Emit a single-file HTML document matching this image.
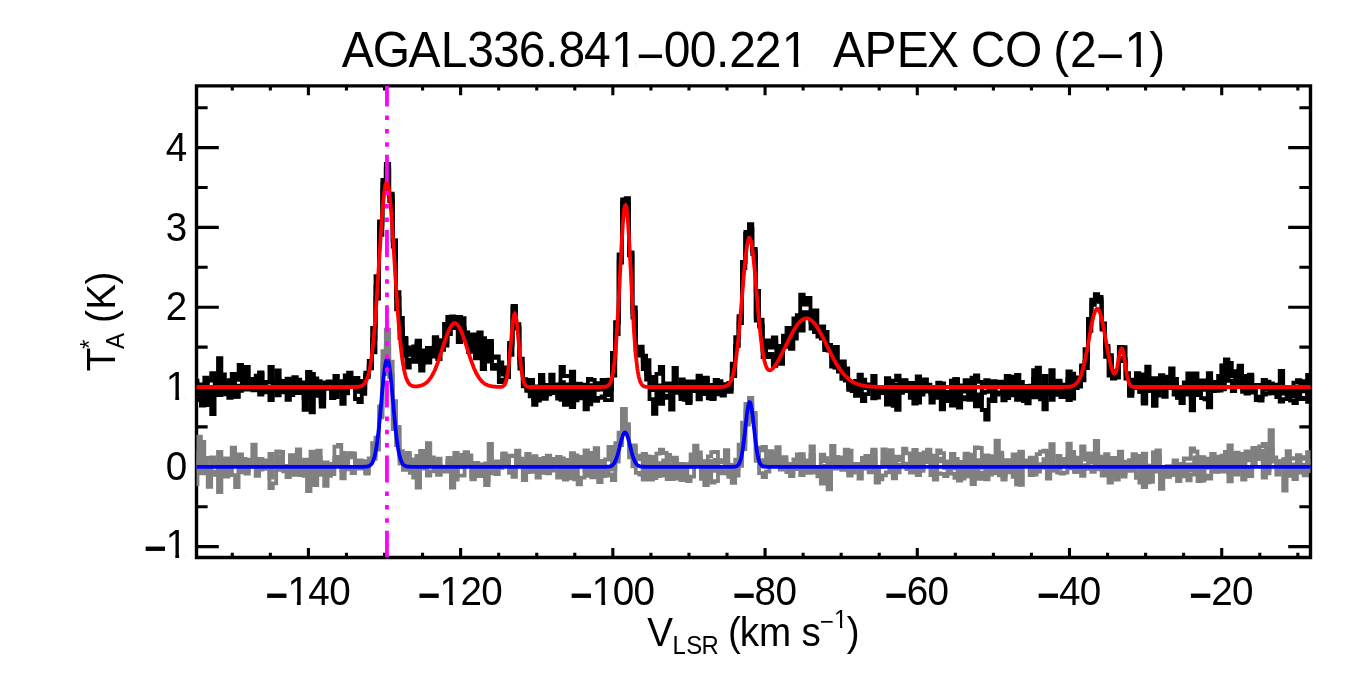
<!DOCTYPE html>
<html><head><meta charset="utf-8"><title>AGAL336.841-00.221 APEX CO (2-1)</title><style>html,body{margin:0;padding:0;background:#fff;overflow:hidden}svg{display:block}</style></head><body>
<svg width="1350" height="675" viewBox="0 0 1350 675">
<rect width="1350" height="675" fill="#fff"/>
<defs><clipPath id="c"><rect x="196.5" y="85.9" width="1114.0" height="471.6"/></clipPath></defs>
<path d="M232.29,557.5V552.78M232.29,85.9V90.62M270.34,557.5V552.78M270.34,85.9V90.62M308.40,557.5V548.07M308.40,85.9V95.33M346.45,557.5V552.78M346.45,85.9V90.62M384.51,557.5V552.78M384.51,85.9V90.62M422.56,557.5V552.78M422.56,85.9V90.62M460.62,557.5V548.07M460.62,85.9V95.33M498.67,557.5V552.78M498.67,85.9V90.62M536.73,557.5V552.78M536.73,85.9V90.62M574.78,557.5V552.78M574.78,85.9V90.62M612.84,557.5V548.07M612.84,85.9V95.33M650.89,557.5V552.78M650.89,85.9V90.62M688.95,557.5V552.78M688.95,85.9V90.62M727.00,557.5V552.78M727.00,85.9V90.62M765.06,557.5V548.07M765.06,85.9V95.33M803.12,557.5V552.78M803.12,85.9V90.62M841.17,557.5V552.78M841.17,85.9V90.62M879.22,557.5V552.78M879.22,85.9V90.62M917.28,557.5V548.07M917.28,85.9V95.33M955.33,557.5V552.78M955.33,85.9V90.62M993.39,557.5V552.78M993.39,85.9V90.62M1031.44,557.5V552.78M1031.44,85.9V90.62M1069.50,557.5V548.07M1069.50,85.9V95.33M1107.55,557.5V552.78M1107.55,85.9V90.62M1145.61,557.5V552.78M1145.61,85.9V90.62M1183.66,557.5V552.78M1183.66,85.9V90.62M1221.72,557.5V548.07M1221.72,85.9V95.33M1259.78,557.5V552.78M1259.78,85.9V90.62M1297.83,557.5V552.78M1297.83,85.9V90.62M196.5,546.60H218.78M1310.5,546.60H1288.22M196.5,506.70H207.64M1310.5,506.70H1299.36M196.5,466.80H218.78M1310.5,466.80H1288.22M196.5,426.90H207.64M1310.5,426.90H1299.36M196.5,387.00H218.78M1310.5,387.00H1288.22M196.5,347.10H207.64M1310.5,347.10H1299.36M196.5,307.20H218.78M1310.5,307.20H1288.22M196.5,267.30H207.64M1310.5,267.30H1299.36M196.5,227.40H218.78M1310.5,227.40H1288.22M196.5,187.50H207.64M1310.5,187.50H1299.36M196.5,147.60H218.78M1310.5,147.60H1288.22M196.5,107.70H207.64M1310.5,107.70H1299.36" fill="none" stroke="#000" stroke-width="3.1"/>
<path d="M196.5,85.9H1310.5V557.5H196.5Z" fill="none" stroke="#000" stroke-width="3.4" stroke-linejoin="miter"/>
<g clip-path="url(#c)" fill="none" stroke-width="3.8" stroke-linejoin="miter" stroke-miterlimit="10">
<path d="M187.2,369.5L190.6,369.5L190.6,409.8L194.0,409.8L194.0,383.7L197.5,383.7L197.5,392.4L200.9,392.4L200.9,391.4L204.3,391.4L204.3,389.3L207.7,389.3L207.7,405.1L211.2,405.1L211.2,389.4L214.6,389.4L214.6,395.0L218.0,395.0L218.0,358.2L221.4,358.2L221.4,385.4L224.9,385.4L224.9,390.5L228.3,390.5L228.3,389.9L231.7,389.9L231.7,393.3L235.1,393.3L235.1,396.7L238.6,396.7L238.6,390.8L242.0,390.8L242.0,383.2L245.4,383.2L245.4,389.5L248.8,389.5L248.8,379.0L252.3,379.0L252.3,389.2L255.7,389.2L255.7,387.2L259.1,387.2L259.1,373.8L262.5,373.8L262.5,382.6L266.0,382.6L266.0,391.8L269.4,391.8L269.4,389.0L272.8,389.0L272.8,382.7L276.2,382.7L276.2,370.4L279.7,370.4L279.7,389.8L283.1,389.8L283.1,389.5L286.5,389.5L286.5,378.6L289.9,378.6L289.9,395.2L293.3,395.2L293.3,390.0L296.8,390.0L296.8,379.7L300.2,379.7L300.2,382.3L303.6,382.3L303.6,386.6L307.0,386.6L307.0,381.5L310.5,381.5L310.5,412.3L313.9,412.3L313.9,378.5L317.3,378.5L317.3,395.9L320.7,395.9L320.7,402.2L324.2,402.2L324.2,385.2L327.6,385.2L327.6,381.5L331.0,381.5L331.0,391.6L334.4,391.6L334.4,397.1L337.9,397.1L337.9,387.5L341.3,387.5L341.3,388.2L344.7,388.2L344.7,375.5L348.1,375.5L348.1,381.3L351.6,381.3L351.6,386.2L355.0,386.2L355.0,378.0L358.4,378.0L358.4,389.2L361.8,389.2L361.8,393.8L365.3,393.8L365.3,375.0L368.7,375.0L368.7,360.9L372.1,360.9L372.1,339.1L375.5,339.1L375.5,298.6L379.0,298.6L379.0,224.9L382.4,224.9L382.4,190.5L385.8,190.5L385.8,168.5L389.2,168.5L389.2,193.6L392.7,193.6L392.7,246.6L396.1,246.6L396.1,298.5L399.5,298.5L399.5,338.2L402.9,338.2L402.9,337.8L406.4,337.8L406.4,367.5L409.8,367.5L409.8,359.6L413.2,359.6L413.2,346.3L416.6,346.3L416.6,342.4L420.1,342.4L420.1,370.6L423.5,370.6L423.5,355.2L426.9,355.2L426.9,347.9L430.3,347.9L430.3,356.7L433.8,356.7L433.8,337.2L437.2,337.2L437.2,359.1L440.6,359.1L440.6,340.3L444.0,340.3L444.0,345.6L447.5,345.6L447.5,317.2L450.9,317.2L450.9,325.1L454.3,325.1L454.3,327.4L457.7,327.4L457.7,342.2L461.2,342.2L461.2,318.1L464.6,318.1L464.6,332.6L468.0,332.6L468.0,337.8L471.4,337.8L471.4,337.7L474.9,337.7L474.9,346.1L478.3,346.1L478.3,355.8L481.7,355.8L481.7,358.3L485.1,358.3L485.1,359.2L488.6,359.2L488.6,340.8L492.0,340.8L492.0,367.7L495.4,367.7L495.4,365.7L498.8,365.7L498.8,371.9L502.3,371.9L502.3,374.5L505.7,374.5L505.7,367.3L509.1,367.3L509.1,354.9L512.5,354.9L512.5,316.6L516.0,316.6L516.0,328.3L519.4,328.3L519.4,358.7L522.8,358.7L522.8,379.2L526.2,379.2L526.2,386.9L529.7,386.9L529.7,391.8L533.1,391.8L533.1,386.5L536.5,386.5L536.5,391.2L539.9,391.2L539.9,381.9L543.4,381.9L543.4,396.1L546.8,396.1L546.8,387.9L550.2,387.9L550.2,390.1L553.6,390.1L553.6,384.4L557.1,384.4L557.1,387.2L560.5,387.2L560.5,366.8L563.9,366.8L563.9,376.0L567.3,376.0L567.3,376.1L570.8,376.1L570.8,407.1L574.2,407.1L574.2,392.2L577.6,392.2L577.6,394.6L581.0,394.6L581.0,384.6L584.5,384.6L584.5,409.3L587.9,409.3L587.9,379.0L591.3,379.0L591.3,379.9L594.7,379.9L594.7,400.8L598.2,400.8L598.2,397.9L601.6,397.9L601.6,396.3L605.0,396.3L605.0,388.4L608.4,388.4L608.4,379.7L611.9,379.7L611.9,353.0L615.3,353.0L615.3,334.1L618.7,334.1L618.7,255.1L622.1,255.1L622.1,202.9L625.6,202.9L625.6,198.1L629.0,198.1L629.0,252.4L632.4,252.4L632.4,307.5L635.8,307.5L635.8,355.0L639.3,355.0L639.3,355.6L642.7,355.6L642.7,369.2L646.1,369.2L646.1,360.2L649.5,360.2L649.5,377.0L653.0,377.0L653.0,390.2L656.4,390.2L656.4,393.1L659.8,393.1L659.8,385.3L663.2,385.3L663.2,395.7L666.7,395.7L666.7,397.8L670.1,397.8L670.1,385.4L673.5,385.4L673.5,368.0L676.9,368.0L676.9,391.8L680.4,391.8L680.4,394.5L683.8,394.5L683.8,399.8L687.2,399.8L687.2,401.1L690.6,401.1L690.6,384.6L694.1,384.6L694.1,381.3L697.5,381.3L697.5,388.2L700.9,388.2L700.9,384.8L704.3,384.8L704.3,385.9L707.8,385.9L707.8,385.0L711.2,385.0L711.2,399.0L714.6,399.0L714.6,389.2L718.0,389.2L718.0,384.0L721.5,384.0L721.5,391.8L724.9,391.8L724.9,388.7L728.3,388.7L728.3,389.0L731.7,389.0L731.7,376.0L735.2,376.0L735.2,345.7L738.6,345.7L738.6,323.1L742.0,323.1L742.0,268.1L745.4,268.1L745.4,233.7L748.9,233.7L748.9,229.0L752.3,229.0L752.3,249.0L755.7,249.0L755.7,320.7L759.1,320.7L759.1,325.1L762.6,325.1L762.6,350.6L766.0,350.6L766.0,346.8L769.4,346.8L769.4,340.8L772.8,340.8L772.8,342.1L776.3,342.1L776.3,345.8L779.7,345.8L779.7,353.0L783.1,353.0L783.1,335.6L786.5,335.6L786.5,345.1L790.0,345.1L790.0,335.5L793.4,335.5L793.4,318.4L796.8,318.4L796.8,322.7L800.2,322.7L800.2,294.6L803.7,294.6L803.7,304.6L807.1,304.6L807.1,297.8L810.5,297.8L810.5,322.0L813.9,322.0L813.9,330.6L817.4,330.6L817.4,331.5L820.8,331.5L820.8,332.5L824.2,332.5L824.2,350.2L827.6,350.2L827.6,347.5L831.1,347.5L831.1,356.4L834.5,356.4L834.5,347.0L837.9,347.0L837.9,371.7L841.3,371.7L841.3,361.3L844.8,361.3L844.8,380.6L848.2,380.6L848.2,387.5L851.6,387.5L851.6,388.9L855.0,388.9L855.0,395.8L858.5,395.8L858.5,386.1L861.9,386.1L861.9,379.6L865.3,379.6L865.3,388.0L868.7,388.0L868.7,384.4L872.2,384.4L872.2,375.8L875.6,375.8L875.6,387.9L879.0,387.9L879.0,388.6L882.4,388.6L882.4,392.8L885.9,392.8L885.9,404.6L889.3,404.6L889.3,383.8L892.7,383.8L892.7,405.9L896.1,405.9L896.1,384.8L899.6,384.8L899.6,390.7L903.0,390.7L903.0,380.7L906.4,380.7L906.4,391.1L909.8,391.1L909.8,397.8L913.3,397.8L913.3,387.4L916.7,387.4L916.7,395.5L920.1,395.5L920.1,392.2L923.5,392.2L923.5,390.2L927.0,390.2L927.0,391.7L930.4,391.7L930.4,392.2L933.8,392.2L933.8,397.9L937.2,397.9L937.2,392.2L940.7,392.2L940.7,409.3L944.1,409.3L944.1,391.9L947.5,391.9L947.5,401.0L950.9,401.0L950.9,380.7L954.4,380.7L954.4,379.3L957.8,379.3L957.8,407.6L961.2,407.6L961.2,389.2L964.6,389.2L964.6,391.6L968.1,391.6L968.1,399.6L971.5,399.6L971.5,385.8L974.9,385.8L974.9,394.5L978.3,394.5L978.3,405.9L981.8,405.9L981.8,392.8L985.2,392.8L985.2,391.7L988.6,391.7L988.6,389.5L992.0,389.5L992.0,401.2L995.5,401.2L995.5,385.0L998.9,385.0L998.9,383.9L1002.3,383.9L1002.3,400.4L1005.7,400.4L1005.7,396.1L1009.2,396.1L1009.2,391.1L1012.6,391.1L1012.6,395.3L1016.0,395.3L1016.0,375.0L1019.4,375.0L1019.4,388.5L1022.9,388.5L1022.9,399.2L1026.3,399.2L1026.3,397.2L1029.7,397.2L1029.7,390.8L1033.1,390.8L1033.1,370.1L1036.6,370.1L1036.6,391.8L1040.0,391.8L1040.0,389.1L1043.4,389.1L1043.4,385.7L1046.8,385.7L1046.8,390.6L1050.3,390.6L1050.3,370.2L1053.7,370.2L1053.7,394.9L1057.1,394.9L1057.1,383.7L1060.5,383.7L1060.5,388.8L1064.0,388.8L1064.0,384.7L1067.4,384.7L1067.4,400.2L1070.8,400.2L1070.8,373.6L1074.2,373.6L1074.2,388.1L1077.7,388.1L1077.7,381.7L1081.1,381.7L1081.1,380.3L1084.5,380.3L1084.5,361.7L1087.9,361.7L1087.9,319.5L1091.4,319.5L1091.4,299.7L1094.8,299.7L1094.8,294.2L1098.2,294.2L1098.2,298.8L1101.6,298.8L1101.6,323.4L1105.1,323.4L1105.1,348.4L1108.5,348.4L1108.5,358.5L1111.9,358.5L1111.9,370.9L1115.3,370.9L1115.3,371.8L1118.8,371.8L1118.8,347.0L1122.2,347.0L1122.2,347.2L1125.6,347.2L1125.6,377.8L1129.0,377.8L1129.0,391.8L1132.5,391.8L1132.5,383.5L1135.9,383.5L1135.9,373.1L1139.3,373.1L1139.3,391.7L1142.7,391.7L1142.7,390.6L1146.2,390.6L1146.2,391.0L1149.6,391.0L1149.6,379.0L1153.0,379.0L1153.0,405.9L1156.4,405.9L1156.4,386.5L1159.9,386.5L1159.9,379.2L1163.3,379.2L1163.3,396.8L1166.7,396.8L1166.7,376.6L1170.1,376.6L1170.1,385.0L1173.6,385.0L1173.6,394.5L1177.0,394.5L1177.0,387.8L1180.4,387.8L1180.4,403.1L1183.8,403.1L1183.8,394.5L1187.3,394.5L1187.3,373.5L1190.7,373.5L1190.7,397.4L1194.1,397.4L1194.1,373.3L1197.5,373.3L1197.5,390.1L1201.0,390.1L1201.0,380.4L1204.4,380.4L1204.4,388.3L1207.8,388.3L1207.8,407.4L1211.2,407.4L1211.2,391.0L1214.7,391.0L1214.7,381.9L1218.1,381.9L1218.1,390.6L1221.5,390.6L1221.5,389.4L1224.9,389.4L1224.9,372.4L1228.4,372.4L1228.4,380.8L1231.8,380.8L1231.8,391.2L1235.2,391.2L1235.2,384.8L1238.6,384.8L1238.6,374.3L1242.1,374.3L1242.1,388.8L1245.5,388.8L1245.5,378.6L1248.9,378.6L1248.9,374.7L1252.3,374.7L1252.3,388.6L1255.8,388.6L1255.8,399.1L1259.2,399.1L1259.2,400.7L1262.6,400.7L1262.6,389.6L1266.0,389.6L1266.0,381.7L1269.5,381.7L1269.5,387.0L1272.9,387.0L1272.9,384.6L1276.3,384.6L1276.3,393.3L1279.7,393.3L1279.7,386.8L1283.2,386.8L1283.2,393.5L1286.6,393.5L1286.6,392.3L1290.0,392.3L1290.0,400.7L1293.4,400.7L1293.4,403.2L1296.9,403.2L1296.9,393.6L1300.3,393.6L1300.3,399.1L1303.7,399.1L1303.7,397.8L1307.1,397.8L1307.1,383.5L1310.6,383.5L1310.6,390.3L1314.0,390.3L1314.0,363.8L1317.4,363.8" stroke="#000"/>
<path d="M187.2,379.3L190.6,379.3L190.6,393.0L194.0,393.0L194.0,380.6L197.5,380.6L197.5,384.3L200.9,384.3L200.9,393.4L204.3,393.4L204.3,377.7L207.7,377.7L207.7,394.2L211.2,394.2L211.2,414.2L214.6,414.2L214.6,380.4L218.0,380.4L218.0,392.8L221.4,392.8L221.4,374.4L224.9,374.4L224.9,393.1L228.3,393.1L228.3,397.8L231.7,397.8L231.7,373.8L235.1,373.8L235.1,396.8L238.6,396.8L238.6,385.6L242.0,385.6L242.0,374.7L245.4,374.7L245.4,386.4L248.8,386.4L248.8,388.1L252.3,388.1L252.3,386.5L255.7,386.5L255.7,380.0L259.1,380.0L259.1,394.5L262.5,394.5L262.5,382.0L266.0,382.0L266.0,382.3L269.4,382.3L269.4,366.9L272.8,366.9L272.8,390.4L276.2,390.4L276.2,395.4L279.7,395.4L279.7,380.9L283.1,380.9L283.1,390.9L286.5,390.9L286.5,384.9L289.9,384.9L289.9,386.2L293.3,386.2L293.3,377.1L296.8,377.1L296.8,393.2L300.2,393.2L300.2,388.2L303.6,388.2L303.6,409.8L307.0,409.8L307.0,395.2L310.5,395.2L310.5,374.0L313.9,374.0L313.9,393.5L317.3,393.5L317.3,393.7L320.7,393.7L320.7,398.2L324.2,398.2L324.2,382.5L327.6,382.5L327.6,386.1L331.0,386.1L331.0,398.1L334.4,398.1L334.4,381.8L337.9,381.8L337.9,385.4L341.3,385.4L341.3,381.1L344.7,381.1L344.7,393.4L348.1,393.4L348.1,372.6L351.6,372.6L351.6,384.3L355.0,384.3L355.0,388.8L358.4,388.8L358.4,391.9L361.8,391.9L361.8,387.8L365.3,387.8L365.3,372.6L368.7,372.6L368.7,368.4L372.1,368.4L372.1,327.8L375.5,327.8L375.5,286.6L379.0,286.6L379.0,221.3L382.4,221.3L382.4,180.0L385.8,180.0L385.8,170.9L389.2,170.9L389.2,201.2L392.7,201.2L392.7,240.4L396.1,240.4L396.1,292.2L399.5,292.2L399.5,328.4L402.9,328.4L402.9,339.5L406.4,339.5L406.4,353.8L409.8,353.8L409.8,354.9L413.2,354.9L413.2,360.8L416.6,360.8L416.6,340.6L420.1,340.6L420.1,350.3L423.5,350.3L423.5,355.1L426.9,355.1L426.9,362.5L430.3,362.5L430.3,352.7L433.8,352.7L433.8,338.5L437.2,338.5L437.2,344.6L440.6,344.6L440.6,349.8L444.0,349.8L444.0,323.8L447.5,323.8L447.5,317.0L450.9,317.0L450.9,316.3L454.3,316.3L454.3,317.2L457.7,317.2L457.7,317.0L461.2,317.0L461.2,328.1L464.6,328.1L464.6,332.4L468.0,332.4L468.0,351.3L471.4,351.3L471.4,334.5L474.9,334.5L474.9,347.2L478.3,347.2L478.3,332.4L481.7,332.4L481.7,369.2L485.1,369.2L485.1,345.9L488.6,345.9L488.6,344.2L492.0,344.2L492.0,357.9L495.4,357.9L495.4,356.5L498.8,356.5L498.8,362.5L502.3,362.5L502.3,371.4L505.7,371.4L505.7,377.0L509.1,377.0L509.1,345.2L512.5,345.2L512.5,307.8L516.0,307.8L516.0,324.2L519.4,324.2L519.4,368.5L522.8,368.5L522.8,385.2L526.2,385.2L526.2,387.0L529.7,387.0L529.7,379.9L533.1,379.9L533.1,398.3L536.5,398.3L536.5,400.7L539.9,400.7L539.9,388.0L543.4,388.0L543.4,398.8L546.8,398.8L546.8,394.3L550.2,394.3L550.2,388.4L553.6,388.4L553.6,384.9L557.1,384.9L557.1,398.6L560.5,398.6L560.5,382.1L563.9,382.1L563.9,404.8L567.3,404.8L567.3,384.4L570.8,384.4L570.8,403.1L574.2,403.1L574.2,400.4L577.6,400.4L577.6,383.6L581.0,383.6L581.0,392.8L584.5,392.8L584.5,396.3L587.9,396.3L587.9,393.2L591.3,393.2L591.3,385.2L594.7,385.2L594.7,389.8L598.2,389.8L598.2,389.6L601.6,389.6L601.6,380.0L605.0,380.0L605.0,395.0L608.4,395.0L608.4,389.4L611.9,389.4L611.9,375.5L615.3,375.5L615.3,322.1L618.7,322.1L618.7,254.4L622.1,254.4L622.1,199.3L625.6,199.3L625.6,203.8L629.0,203.8L629.0,255.3L632.4,255.3L632.4,312.0L635.8,312.0L635.8,349.0L639.3,349.0L639.3,346.6L642.7,346.6L642.7,355.7L646.1,355.7L646.1,379.6L649.5,379.6L649.5,383.5L653.0,383.5L653.0,388.6L656.4,388.6L656.4,373.9L659.8,373.9L659.8,366.8L663.2,366.8L663.2,390.5L666.7,390.5L666.7,389.5L670.1,389.5L670.1,409.6L673.5,409.6L673.5,387.8L676.9,387.8L676.9,389.7L680.4,389.7L680.4,399.0L683.8,399.0L683.8,382.6L687.2,382.6L687.2,403.1L690.6,403.1L690.6,391.1L694.1,391.1L694.1,387.6L697.5,387.6L697.5,399.3L700.9,399.3L700.9,380.2L704.3,380.2L704.3,377.7L707.8,377.7L707.8,398.4L711.2,398.4L711.2,397.9L714.6,397.9L714.6,379.8L718.0,379.8L718.0,385.2L721.5,385.2L721.5,395.6L724.9,395.6L724.9,387.1L728.3,387.1L728.3,382.8L731.7,382.8L731.7,374.4L735.2,374.4L735.2,345.9L738.6,345.9L738.6,316.2L742.0,316.2L742.0,261.9L745.4,261.9L745.4,231.9L748.9,231.9L748.9,228.9L752.3,228.9L752.3,251.0L755.7,251.0L755.7,290.8L759.1,290.8L759.1,326.5L762.6,326.5L762.6,357.1L766.0,357.1L766.0,340.5L769.4,340.5L769.4,347.5L772.8,347.5L772.8,337.4L776.3,337.4L776.3,354.1L779.7,354.1L779.7,349.7L783.1,349.7L783.1,346.8L786.5,346.8L786.5,327.9L790.0,327.9L790.0,332.7L793.4,332.7L793.4,327.8L796.8,327.8L796.8,315.1L800.2,315.1L800.2,317.4L803.7,317.4L803.7,312.1L807.1,312.1L807.1,316.9L810.5,316.9L810.5,319.4L813.9,319.4L813.9,310.3L817.4,310.3L817.4,336.5L820.8,336.5L820.8,338.7L824.2,338.7L824.2,346.8L827.6,346.8L827.6,345.0L831.1,345.0L831.1,366.6L834.5,366.6L834.5,367.3L837.9,367.3L837.9,366.2L841.3,366.2L841.3,365.7L844.8,365.7L844.8,375.3L848.2,375.3L848.2,383.5L851.6,383.5L851.6,390.2L855.0,390.2L855.0,380.9L858.5,380.9L858.5,374.7L861.9,374.7L861.9,385.8L865.3,385.8L865.3,387.7L868.7,387.7L868.7,386.0L872.2,386.0L872.2,398.4L875.6,398.4L875.6,393.0L879.0,393.0L879.0,392.7L882.4,392.7L882.4,387.8L885.9,387.8L885.9,390.7L889.3,390.7L889.3,401.2L892.7,401.2L892.7,380.6L896.1,380.6L896.1,375.7L899.6,375.7L899.6,392.8L903.0,392.8L903.0,387.0L906.4,387.0L906.4,388.2L909.8,388.2L909.8,383.7L913.3,383.7L913.3,403.6L916.7,403.6L916.7,376.4L920.1,376.4L920.1,394.7L923.5,394.7L923.5,379.5L927.0,379.5L927.0,389.9L930.4,389.9L930.4,394.0L933.8,394.0L933.8,391.8L937.2,391.8L937.2,382.7L940.7,382.7L940.7,398.1L944.1,398.1L944.1,393.8L947.5,393.8L947.5,394.7L950.9,394.7L950.9,405.6L954.4,405.6L954.4,379.1L957.8,379.1L957.8,385.4L961.2,385.4L961.2,390.7L964.6,390.7L964.6,380.2L968.1,380.2L968.1,398.8L971.5,398.8L971.5,391.1L974.9,391.1L974.9,375.3L978.3,375.3L978.3,381.8L981.8,381.8L981.8,410.0L985.2,410.0L985.2,419.7L988.6,419.7L988.6,399.5L992.0,399.5L992.0,381.1L995.5,381.1L995.5,394.5L998.9,394.5L998.9,392.3L1002.3,392.3L1002.3,385.0L1005.7,385.0L1005.7,398.1L1009.2,398.1L1009.2,388.5L1012.6,388.5L1012.6,383.4L1016.0,383.4L1016.0,386.2L1019.4,386.2L1019.4,386.8L1022.9,386.8L1022.9,395.6L1026.3,395.6L1026.3,385.8L1029.7,385.8L1029.7,394.0L1033.1,394.0L1033.1,378.8L1036.6,378.8L1036.6,367.7L1040.0,367.7L1040.0,396.8L1043.4,396.8L1043.4,409.3L1046.8,409.3L1046.8,394.0L1050.3,394.0L1050.3,386.9L1053.7,386.9L1053.7,381.0L1057.1,381.0L1057.1,380.7L1060.5,380.7L1060.5,397.1L1064.0,397.1L1064.0,397.1L1067.4,397.1L1067.4,378.8L1070.8,378.8L1070.8,398.7L1074.2,398.7L1074.2,377.5L1077.7,377.5L1077.7,384.0L1081.1,384.0L1081.1,365.4L1084.5,365.4L1084.5,349.1L1087.9,349.1L1087.9,318.8L1091.4,318.8L1091.4,300.2L1094.8,300.2L1094.8,299.8L1098.2,299.8L1098.2,301.8L1101.6,301.8L1101.6,329.5L1105.1,329.5L1105.1,346.0L1108.5,346.0L1108.5,355.1L1111.9,355.1L1111.9,378.5L1115.3,378.5L1115.3,377.1L1118.8,377.1L1118.8,359.8L1122.2,359.8L1122.2,361.2L1125.6,361.2L1125.6,373.2L1129.0,373.2L1129.0,395.8L1132.5,395.8L1132.5,379.6L1135.9,379.6L1135.9,387.3L1139.3,387.3L1139.3,391.8L1142.7,391.8L1142.7,401.5L1146.2,401.5L1146.2,387.6L1149.6,387.6L1149.6,383.7L1153.0,383.7L1153.0,405.2L1156.4,405.2L1156.4,379.3L1159.9,379.3L1159.9,375.2L1163.3,375.2L1163.3,386.7L1166.7,386.7L1166.7,385.4L1170.1,385.4L1170.1,368.5L1173.6,368.5L1173.6,378.8L1177.0,378.8L1177.0,397.5L1180.4,397.5L1180.4,389.7L1183.8,389.7L1183.8,391.0L1187.3,391.0L1187.3,390.9L1190.7,390.9L1190.7,410.3L1194.1,410.3L1194.1,382.8L1197.5,382.8L1197.5,395.0L1201.0,395.0L1201.0,387.7L1204.4,387.7L1204.4,389.9L1207.8,389.9L1207.8,380.0L1211.2,380.0L1211.2,388.6L1214.7,388.6L1214.7,390.5L1218.1,390.5L1218.1,375.9L1221.5,375.9L1221.5,365.3L1224.9,365.3L1224.9,378.4L1228.4,378.4L1228.4,363.0L1231.8,363.0L1231.8,374.0L1235.2,374.0L1235.2,383.5L1238.6,383.5L1238.6,368.5L1242.1,368.5L1242.1,391.8L1245.5,391.8L1245.5,377.9L1248.9,377.9L1248.9,392.5L1252.3,392.5L1252.3,384.9L1255.8,384.9L1255.8,400.0L1259.2,400.0L1259.2,396.7L1262.6,396.7L1262.6,380.0L1266.0,380.0L1266.0,387.7L1269.5,387.7L1269.5,389.1L1272.9,389.1L1272.9,393.3L1276.3,393.3L1276.3,385.5L1279.7,385.5L1279.7,401.7L1283.2,401.7L1283.2,399.2L1286.6,399.2L1286.6,390.8L1290.0,390.8L1290.0,396.7L1293.4,396.7L1293.4,395.5L1296.9,395.5L1296.9,390.0L1300.3,390.0L1300.3,390.6L1303.7,390.6L1303.7,391.3L1307.1,391.3L1307.1,374.8L1310.6,374.8L1310.6,380.5L1314.0,380.5L1314.0,378.6L1317.4,378.6" stroke="#000"/>
<path d="M187.2,387.6L190.6,387.6L190.6,391.8L194.0,391.8L194.0,400.2L197.5,400.2L197.5,390.5L200.9,390.5L200.9,405.7L204.3,405.7L204.3,392.5L207.7,392.5L207.7,380.7L211.2,380.7L211.2,373.2L214.6,373.2L214.6,378.9L218.0,378.9L218.0,395.0L221.4,395.0L221.4,383.1L224.9,383.1L224.9,394.3L228.3,394.3L228.3,380.2L231.7,380.2L231.7,388.4L235.1,388.4L235.1,379.9L238.6,379.9L238.6,364.8L242.0,364.8L242.0,379.3L245.4,379.3L245.4,366.9L248.8,366.9L248.8,385.8L252.3,385.8L252.3,390.3L255.7,390.3L255.7,375.7L259.1,375.7L259.1,372.3L262.5,372.3L262.5,392.3L266.0,392.3L266.0,386.7L269.4,386.7L269.4,400.0L272.8,400.0L272.8,389.2L276.2,389.2L276.2,379.6L279.7,379.6L279.7,388.2L283.1,388.2L283.1,392.4L286.5,392.4L286.5,399.8L289.9,399.8L289.9,384.2L293.3,384.2L293.3,380.4L296.8,380.4L296.8,382.2L300.2,382.2L300.2,385.2L303.6,385.2L303.6,398.6L307.0,398.6L307.0,371.9L310.5,371.9L310.5,387.9L313.9,387.9L313.9,388.7L317.3,388.7L317.3,381.1L320.7,381.1L320.7,406.5L324.2,406.5L324.2,388.1L327.6,388.1L327.6,388.8L331.0,388.8L331.0,384.4L334.4,384.4L334.4,375.9L337.9,375.9L337.9,383.6L341.3,383.6L341.3,403.8L344.7,403.8L344.7,390.8L348.1,390.8L348.1,386.0L351.6,386.0L351.6,386.6L355.0,386.6L355.0,399.0L358.4,399.0L358.4,402.0L361.8,402.0L361.8,380.8L365.3,380.8L365.3,377.1L368.7,377.1L368.7,366.2L372.1,366.2L372.1,352.4L375.5,352.4L375.5,276.1L379.0,276.1L379.0,234.9L382.4,234.9L382.4,183.7L385.8,183.7L385.8,164.0L389.2,164.0L389.2,195.6L392.7,195.6L392.7,240.7L396.1,240.7L396.1,309.4L399.5,309.4L399.5,317.9L402.9,317.9L402.9,355.8L406.4,355.8L406.4,347.4L409.8,347.4L409.8,350.3L413.2,350.3L413.2,361.8L416.6,361.8L416.6,344.8L420.1,344.8L420.1,364.1L423.5,364.1L423.5,356.8L426.9,356.8L426.9,351.0L430.3,351.0L430.3,355.0L433.8,355.0L433.8,347.0L437.2,347.0L437.2,340.5L440.6,340.5L440.6,346.0L444.0,346.0L444.0,341.1L447.5,341.1L447.5,334.1L450.9,334.1L450.9,328.2L454.3,328.2L454.3,317.0L457.7,317.0L457.7,329.0L461.2,329.0L461.2,329.3L464.6,329.3L464.6,340.0L468.0,340.0L468.0,351.9L471.4,351.9L471.4,340.1L474.9,340.1L474.9,358.3L478.3,358.3L478.3,350.2L481.7,350.2L481.7,338.2L485.1,338.2L485.1,361.7L488.6,361.7L488.6,353.3L492.0,353.3L492.0,368.8L495.4,368.8L495.4,364.9L498.8,364.9L498.8,382.2L502.3,382.2L502.3,379.7L505.7,379.7L505.7,377.0L509.1,377.0L509.1,342.8L512.5,342.8L512.5,306.0L516.0,306.0L516.0,327.4L519.4,327.4L519.4,363.6L522.8,363.6L522.8,386.3L526.2,386.3L526.2,390.9L529.7,390.9L529.7,396.4L533.1,396.4L533.1,404.9L536.5,404.9L536.5,388.5L539.9,388.5L539.9,374.8L543.4,374.8L543.4,384.9L546.8,384.9L546.8,393.8L550.2,393.8L550.2,374.7L553.6,374.7L553.6,393.0L557.1,393.0L557.1,394.6L560.5,394.6L560.5,399.8L563.9,399.8L563.9,397.6L567.3,397.6L567.3,391.4L570.8,391.4L570.8,371.7L574.2,371.7L574.2,391.0L577.6,391.0L577.6,398.3L581.0,398.3L581.0,394.6L584.5,394.6L584.5,391.2L587.9,391.2L587.9,404.3L591.3,404.3L591.3,388.2L594.7,388.2L594.7,383.2L598.2,383.2L598.2,386.5L601.6,386.5L601.6,384.0L605.0,384.0L605.0,400.1L608.4,400.1L608.4,400.2L611.9,400.2L611.9,359.6L615.3,359.6L615.3,322.7L618.7,322.7L618.7,262.5L622.1,262.5L622.1,202.8L625.6,202.8L625.6,203.6L629.0,203.6L629.0,253.1L632.4,253.1L632.4,317.6L635.8,317.6L635.8,350.0L639.3,350.0L639.3,352.2L642.7,352.2L642.7,360.7L646.1,360.7L646.1,373.9L649.5,373.9L649.5,399.1L653.0,399.1L653.0,413.8L656.4,413.8L656.4,396.1L659.8,396.1L659.8,403.9L663.2,403.9L663.2,387.4L666.7,387.4L666.7,383.3L670.1,383.3L670.1,387.3L673.5,387.3L673.5,392.9L676.9,392.9L676.9,389.0L680.4,389.0L680.4,379.3L683.8,379.3L683.8,395.9L687.2,395.9L687.2,381.3L690.6,381.3L690.6,383.0L694.1,383.0L694.1,386.5L697.5,386.5L697.5,375.6L700.9,375.6L700.9,394.0L704.3,394.0L704.3,378.7L707.8,378.7L707.8,394.4L711.2,394.4L711.2,392.3L714.6,392.3L714.6,394.4L718.0,394.4L718.0,381.1L721.5,381.1L721.5,393.2L724.9,393.2L724.9,384.1L728.3,384.1L728.3,391.8L731.7,391.8L731.7,363.7L735.2,363.7L735.2,337.1L738.6,337.1L738.6,317.6L742.0,317.6L742.0,262.3L745.4,262.3L745.4,234.5L748.9,234.5L748.9,224.2L752.3,224.2L752.3,254.1L755.7,254.1L755.7,316.2L759.1,316.2L759.1,319.6L762.6,319.6L762.6,347.5L766.0,347.5L766.0,357.1L769.4,357.1L769.4,353.9L772.8,353.9L772.8,365.8L776.3,365.8L776.3,356.4L779.7,356.4L779.7,363.8L783.1,363.8L783.1,336.7L786.5,336.7L786.5,336.8L790.0,336.8L790.0,348.8L793.4,348.8L793.4,338.7L796.8,338.7L796.8,322.8L800.2,322.8L800.2,330.5L803.7,330.5L803.7,314.5L807.1,314.5L807.1,317.2L810.5,317.2L810.5,328.6L813.9,328.6L813.9,332.0L817.4,332.0L817.4,328.6L820.8,328.6L820.8,326.5L824.2,326.5L824.2,331.9L827.6,331.9L827.6,350.6L831.1,350.6L831.1,348.7L834.5,348.7L834.5,367.7L837.9,367.7L837.9,362.3L841.3,362.3L841.3,378.9L844.8,378.9L844.8,368.5L848.2,368.5L848.2,389.9L851.6,389.9L851.6,391.1L855.0,391.1L855.0,385.5L858.5,385.5L858.5,382.4L861.9,382.4L861.9,401.2L865.3,401.2L865.3,394.1L868.7,394.1L868.7,388.7L872.2,388.7L872.2,388.1L875.6,388.1L875.6,397.6L879.0,397.6L879.0,389.5L882.4,389.5L882.4,392.8L885.9,392.8L885.9,378.1L889.3,378.1L889.3,385.6L892.7,385.6L892.7,402.1L896.1,402.1L896.1,409.8L899.6,409.8L899.6,389.7L903.0,389.7L903.0,380.2L906.4,380.2L906.4,389.0L909.8,389.0L909.8,382.8L913.3,382.8L913.3,394.8L916.7,394.8L916.7,402.6L920.1,402.6L920.1,384.0L923.5,384.0L923.5,389.7L927.0,389.7L927.0,384.6L930.4,384.6L930.4,402.7L933.8,402.7L933.8,388.9L937.2,388.9L937.2,396.0L940.7,396.0L940.7,383.4L944.1,383.4L944.1,395.6L947.5,395.6L947.5,395.8L950.9,395.8L950.9,395.6L954.4,395.6L954.4,379.4L957.8,379.4L957.8,390.2L961.2,390.2L961.2,397.1L964.6,397.1L964.6,399.4L968.1,399.4L968.1,399.6L971.5,399.6L971.5,377.6L974.9,377.6L974.9,406.4L978.3,406.4L978.3,397.9L981.8,397.9L981.8,384.8L985.2,384.8L985.2,380.1L988.6,380.1L988.6,391.7L992.0,391.7L992.0,383.5L995.5,383.5L995.5,383.7L998.9,383.7L998.9,381.7L1002.3,381.7L1002.3,390.0L1005.7,390.0L1005.7,375.8L1009.2,375.8L1009.2,388.4L1012.6,388.4L1012.6,376.7L1016.0,376.7L1016.0,399.8L1019.4,399.8L1019.4,381.9L1022.9,381.9L1022.9,401.2L1026.3,401.2L1026.3,403.3L1029.7,403.3L1029.7,385.7L1033.1,385.7L1033.1,397.3L1036.6,397.3L1036.6,386.1L1040.0,386.1L1040.0,399.4L1043.4,399.4L1043.4,375.9L1046.8,375.9L1046.8,389.8L1050.3,389.8L1050.3,399.8L1053.7,399.8L1053.7,388.3L1057.1,388.3L1057.1,382.1L1060.5,382.1L1060.5,396.6L1064.0,396.6L1064.0,385.2L1067.4,385.2L1067.4,371.5L1070.8,371.5L1070.8,381.1L1074.2,381.1L1074.2,386.7L1077.7,386.7L1077.7,386.6L1081.1,386.6L1081.1,366.6L1084.5,366.6L1084.5,368.2L1087.9,368.2L1087.9,330.8L1091.4,330.8L1091.4,304.8L1094.8,304.8L1094.8,299.9L1098.2,299.9L1098.2,297.0L1101.6,297.0L1101.6,327.9L1105.1,327.9L1105.1,356.8L1108.5,356.8L1108.5,375.6L1111.9,375.6L1111.9,371.2L1115.3,371.2L1115.3,377.6L1118.8,377.6L1118.8,358.0L1122.2,358.0L1122.2,358.8L1125.6,358.8L1125.6,378.5L1129.0,378.5L1129.0,387.3L1132.5,387.3L1132.5,388.2L1135.9,388.2L1135.9,377.8L1139.3,377.8L1139.3,374.3L1142.7,374.3L1142.7,403.7L1146.2,403.7L1146.2,366.6L1149.6,366.6L1149.6,388.0L1153.0,388.0L1153.0,378.2L1156.4,378.2L1156.4,395.6L1159.9,395.6L1159.9,386.2L1163.3,386.2L1163.3,387.2L1166.7,387.2L1166.7,388.0L1170.1,388.0L1170.1,381.5L1173.6,381.5L1173.6,383.4L1177.0,383.4L1177.0,397.8L1180.4,397.8L1180.4,390.0L1183.8,390.0L1183.8,382.5L1187.3,382.5L1187.3,382.9L1190.7,382.9L1190.7,391.8L1194.1,391.8L1194.1,391.3L1197.5,391.3L1197.5,390.1L1201.0,390.1L1201.0,398.2L1204.4,398.2L1204.4,399.3L1207.8,399.3L1207.8,373.2L1211.2,373.2L1211.2,388.8L1214.7,388.8L1214.7,382.0L1218.1,382.0L1218.1,386.4L1221.5,386.4L1221.5,365.6L1224.9,365.6L1224.9,359.5L1228.4,359.5L1228.4,376.3L1231.8,376.3L1231.8,371.1L1235.2,371.1L1235.2,384.8L1238.6,384.8L1238.6,365.7L1242.1,365.7L1242.1,375.9L1245.5,375.9L1245.5,393.5L1248.9,393.5L1248.9,376.5L1252.3,376.5L1252.3,385.0L1255.8,385.0L1255.8,384.9L1259.2,384.9L1259.2,385.5L1262.6,385.5L1262.6,394.6L1266.0,394.6L1266.0,393.5L1269.5,393.5L1269.5,383.3L1272.9,383.3L1272.9,389.2L1276.3,389.2L1276.3,397.1L1279.7,397.1L1279.7,370.9L1283.2,370.9L1283.2,390.6L1286.6,390.6L1286.6,393.7L1290.0,393.7L1290.0,394.9L1293.4,394.9L1293.4,382.7L1296.9,382.7L1296.9,380.2L1300.3,380.2L1300.3,386.6L1303.7,386.6L1303.7,381.2L1307.1,381.2L1307.1,401.9L1310.6,401.9L1310.6,392.1L1314.0,392.1L1314.0,392.9L1317.4,392.9" stroke="#000"/>
<path d="M192.7,387.00L193.2,387.00L193.6,387.00L194.1,387.00L194.6,387.00L195.0,387.00L195.5,387.00L196.0,387.00L196.4,387.00L196.9,387.00L197.4,387.00L197.8,387.00L198.3,387.00L198.8,387.00L199.2,387.00L199.7,387.00L200.2,387.00L200.6,387.00L201.1,387.00L201.6,387.00L202.0,387.00L202.5,387.00L203.0,387.00L203.4,387.00L203.9,387.00L204.4,387.00L204.9,387.00L205.3,387.00L205.8,387.00L206.3,387.00L206.7,387.00L207.2,387.00L207.7,387.00L208.1,387.00L208.6,387.00L209.1,387.00L209.5,387.00L210.0,387.00L210.5,387.00L210.9,387.00L211.4,387.00L211.9,387.00L212.3,387.00L212.8,387.00L213.3,387.00L213.7,387.00L214.2,387.00L214.7,387.00L215.1,387.00L215.6,387.00L216.1,387.00L216.5,387.00L217.0,387.00L217.5,387.00L217.9,387.00L218.4,387.00L218.9,387.00L219.3,387.00L219.8,387.00L220.3,387.00L220.7,387.00L221.2,387.00L221.7,387.00L222.1,387.00L222.6,387.00L223.1,387.00L223.6,387.00L224.0,387.00L224.5,387.00L225.0,387.00L225.4,387.00L225.9,387.00L226.4,387.00L226.8,387.00L227.3,387.00L227.8,387.00L228.2,387.00L228.7,387.00L229.2,387.00L229.6,387.00L230.1,387.00L230.6,387.00L231.0,387.00L231.5,387.00L232.0,387.00L232.4,387.00L232.9,387.00L233.4,387.00L233.8,387.00L234.3,387.00L234.8,387.00L235.2,387.00L235.7,387.00L236.2,387.00L236.6,387.00L237.1,387.00L237.6,387.00L238.0,387.00L238.5,387.00L239.0,387.00L239.4,387.00L239.9,387.00L240.4,387.00L240.9,387.00L241.3,387.00L241.8,387.00L242.3,387.00L242.7,387.00L243.2,387.00L243.7,387.00L244.1,387.00L244.6,387.00L245.1,387.00L245.5,387.00L246.0,387.00L246.5,387.00L246.9,387.00L247.4,387.00L247.9,387.00L248.3,387.00L248.8,387.00L249.3,387.00L249.7,387.00L250.2,387.00L250.7,387.00L251.1,387.00L251.6,387.00L252.1,387.00L252.5,387.00L253.0,387.00L253.5,387.00L253.9,387.00L254.4,387.00L254.9,387.00L255.3,387.00L255.8,387.00L256.3,387.00L256.7,387.00L257.2,387.00L257.7,387.00L258.1,387.00L258.6,387.00L259.1,387.00L259.6,387.00L260.0,387.00L260.5,387.00L261.0,387.00L261.4,387.00L261.9,387.00L262.4,387.00L262.8,387.00L263.3,387.00L263.8,387.00L264.2,387.00L264.7,387.00L265.2,387.00L265.6,387.00L266.1,387.00L266.6,387.00L267.0,387.00L267.5,387.00L268.0,387.00L268.4,387.00L268.9,387.00L269.4,387.00L269.8,387.00L270.3,387.00L270.8,387.00L271.2,387.00L271.7,387.00L272.2,387.00L272.6,387.00L273.1,387.00L273.6,387.00L274.0,387.00L274.5,387.00L275.0,387.00L275.4,387.00L275.9,387.00L276.4,387.00L276.9,387.00L277.3,387.00L277.8,387.00L278.3,387.00L278.7,387.00L279.2,387.00L279.7,387.00L280.1,387.00L280.6,387.00L281.1,387.00L281.5,387.00L282.0,387.00L282.5,387.00L282.9,387.00L283.4,387.00L283.9,387.00L284.3,387.00L284.8,387.00L285.3,387.00L285.7,387.00L286.2,387.00L286.7,387.00L287.1,387.00L287.6,387.00L288.1,387.00L288.5,387.00L289.0,387.00L289.5,387.00L289.9,387.00L290.4,387.00L290.9,387.00L291.3,387.00L291.8,387.00L292.3,387.00L292.7,387.00L293.2,387.00L293.7,387.00L294.1,387.00L294.6,387.00L295.1,387.00L295.6,387.00L296.0,387.00L296.5,387.00L297.0,387.00L297.4,387.00L297.9,387.00L298.4,387.00L298.8,387.00L299.3,387.00L299.8,387.00L300.2,387.00L300.7,387.00L301.2,387.00L301.6,387.00L302.1,387.00L302.6,387.00L303.0,387.00L303.5,387.00L304.0,387.00L304.4,387.00L304.9,387.00L305.4,387.00L305.8,387.00L306.3,387.00L306.8,387.00L307.2,387.00L307.7,387.00L308.2,387.00L308.6,387.00L309.1,387.00L309.6,387.00L310.0,387.00L310.5,387.00L311.0,387.00L311.4,387.00L311.9,387.00L312.4,387.00L312.9,387.00L313.3,387.00L313.8,387.00L314.3,387.00L314.7,387.00L315.2,387.00L315.7,387.00L316.1,387.00L316.6,387.00L317.1,387.00L317.5,387.00L318.0,387.00L318.5,387.00L318.9,387.00L319.4,387.00L319.9,387.00L320.3,387.00L320.8,387.00L321.3,387.00L321.7,387.00L322.2,387.00L322.7,387.00L323.1,387.00L323.6,387.00L324.1,387.00L324.5,387.00L325.0,387.00L325.5,387.00L325.9,387.00L326.4,387.00L326.9,387.00L327.3,387.00L327.8,387.00L328.3,387.00L328.7,387.00L329.2,387.00L329.7,387.00L330.1,387.00L330.6,387.00L331.1,387.00L331.6,387.00L332.0,387.00L332.5,387.00L333.0,387.00L333.4,387.00L333.9,387.00L334.4,387.00L334.8,387.00L335.3,387.00L335.8,387.00L336.2,387.00L336.7,387.00L337.2,387.00L337.6,387.00L338.1,387.00L338.6,387.00L339.0,387.00L339.5,387.00L340.0,387.00L340.4,387.00L340.9,387.00L341.4,387.00L341.8,387.00L342.3,387.00L342.8,387.00L343.2,387.00L343.7,387.00L344.2,387.00L344.6,387.00L345.1,387.00L345.6,387.00L346.0,387.00L346.5,387.00L347.0,387.00L347.4,387.00L347.9,387.00L348.4,387.00L348.9,387.00L349.3,387.00L349.8,387.00L350.3,387.00L350.7,387.00L351.2,386.99L351.7,386.99L352.1,386.99L352.6,386.99L353.1,386.98L353.5,386.98L354.0,386.97L354.5,386.97L354.9,386.96L355.4,386.94L355.9,386.93L356.3,386.91L356.8,386.88L357.3,386.85L357.7,386.82L358.2,386.77L358.7,386.71L359.1,386.64L359.6,386.56L360.1,386.46L360.5,386.33L361.0,386.18L361.5,386.00L361.9,385.79L362.4,385.53L362.9,385.23L363.3,384.87L363.8,384.45L364.3,383.96L364.7,383.39L365.2,382.72L365.7,381.95L366.1,381.06L366.6,380.04L367.1,378.87L367.6,377.54L368.0,376.04L368.5,374.34L369.0,372.43L369.4,370.29L369.9,367.91L370.4,365.27L370.8,362.36L371.3,359.15L371.8,355.64L372.2,351.82L372.7,347.68L373.2,343.21L373.6,338.40L374.1,333.27L374.6,327.80L375.0,322.02L375.5,315.93L376.0,309.56L376.4,302.91L376.9,296.03L377.4,288.94L377.8,281.69L378.3,274.30L378.8,266.84L379.2,259.34L379.7,251.87L380.2,244.48L380.6,237.23L381.1,230.19L381.6,223.41L382.0,216.95L382.5,210.88L383.0,205.25L383.4,200.13L383.9,195.55L384.4,191.58L384.9,188.25L385.3,185.59L385.8,183.64L386.3,182.41L386.7,181.92L387.2,182.18L387.7,183.18L388.1,184.91L388.6,187.35L389.1,190.47L389.5,194.25L390.0,198.64L390.5,203.60L390.9,209.08L391.4,215.02L391.9,221.36L392.3,228.05L392.8,235.02L393.3,242.21L393.7,249.56L394.2,257.01L394.7,264.50L395.1,271.98L395.6,279.40L396.1,286.70L396.5,293.85L397.0,300.80L397.5,307.52L397.9,313.98L398.4,320.16L398.9,326.04L399.3,331.60L399.8,336.84L400.3,341.75L400.7,346.32L401.2,350.57L401.7,354.48L402.1,358.09L402.6,361.38L403.1,364.39L403.6,367.11L404.0,369.57L404.5,371.77L405.0,373.75L405.4,375.51L405.9,377.07L406.4,378.45L406.8,379.66L407.3,380.72L407.8,381.64L408.2,382.44L408.7,383.13L409.2,383.73L409.6,384.24L410.1,384.67L410.6,385.03L411.0,385.33L411.5,385.59L412.0,385.80L412.4,385.97L412.9,386.10L413.4,386.21L413.8,386.29L414.3,386.34L414.8,386.38L415.2,386.40L415.7,386.40L416.2,386.39L416.6,386.37L417.1,386.33L417.6,386.28L418.0,386.22L418.5,386.15L419.0,386.06L419.4,385.97L419.9,385.86L420.4,385.73L420.9,385.60L421.3,385.45L421.8,385.28L422.3,385.10L422.7,384.90L423.2,384.69L423.7,384.45L424.1,384.20L424.6,383.92L425.1,383.62L425.5,383.30L426.0,382.95L426.5,382.57L426.9,382.17L427.4,381.74L427.9,381.27L428.3,380.78L428.8,380.25L429.3,379.69L429.7,379.09L430.2,378.46L430.7,377.79L431.1,377.08L431.6,376.33L432.1,375.54L432.5,374.71L433.0,373.84L433.5,372.93L433.9,371.98L434.4,370.99L434.9,369.95L435.3,368.88L435.8,367.76L436.3,366.61L436.7,365.42L437.2,364.19L437.7,362.93L438.1,361.63L438.6,360.31L439.1,358.95L439.6,357.57L440.0,356.16L440.5,354.74L441.0,353.29L441.4,351.84L441.9,350.37L442.4,348.90L442.8,347.43L443.3,345.95L443.8,344.49L444.2,343.04L444.7,341.60L445.2,340.18L445.6,338.79L446.1,337.44L446.6,336.11L447.0,334.83L447.5,333.59L448.0,332.40L448.4,331.27L448.9,330.19L449.4,329.18L449.8,328.23L450.3,327.36L450.8,326.56L451.2,325.84L451.7,325.20L452.2,324.64L452.6,324.17L453.1,323.79L453.6,323.49L454.0,323.29L454.5,323.18L455.0,323.16L455.4,323.24L455.9,323.41L456.4,323.66L456.9,324.01L457.3,324.45L457.8,324.98L458.3,325.58L458.7,326.28L459.2,327.05L459.7,327.89L460.1,328.81L460.6,329.80L461.1,330.85L461.5,331.96L462.0,333.13L462.5,334.35L462.9,335.62L463.4,336.93L463.9,338.27L464.3,339.65L464.8,341.06L465.3,342.49L465.7,343.93L466.2,345.39L466.7,346.86L467.1,348.34L467.6,349.81L468.1,351.28L468.5,352.74L469.0,354.19L469.5,355.62L469.9,357.03L470.4,358.43L470.9,359.79L471.3,361.13L471.8,362.44L472.3,363.71L472.7,364.96L473.2,366.16L473.7,367.33L474.1,368.46L474.6,369.55L475.1,370.60L475.6,371.61L476.0,372.57L476.5,373.50L477.0,374.39L477.4,375.23L477.9,376.03L478.4,376.80L478.8,377.52L479.3,378.21L479.8,378.86L480.2,379.47L480.7,380.04L481.2,380.58L481.6,381.09L482.1,381.56L482.6,382.01L483.0,382.42L483.5,382.81L484.0,383.17L484.4,383.50L484.9,383.81L485.4,384.10L485.8,384.36L486.3,384.60L486.8,384.83L487.2,385.03L487.7,385.22L488.2,385.40L488.6,385.56L489.1,385.70L489.6,385.83L490.0,385.95L490.5,386.06L491.0,386.16L491.4,386.25L491.9,386.33L492.4,386.40L492.9,386.47L493.3,386.53L493.8,386.58L494.3,386.63L494.7,386.67L495.2,386.71L495.7,386.74L496.1,386.77L496.6,386.80L497.1,386.82L497.5,386.84L498.0,386.86L498.5,386.87L498.9,386.88L499.4,386.88L499.9,386.88L500.3,386.86L500.8,386.83L501.3,386.78L501.7,386.71L502.2,386.59L502.7,386.42L503.1,386.18L503.6,385.85L504.1,385.39L504.5,384.78L505.0,383.98L505.5,382.94L505.9,381.61L506.4,379.96L506.9,377.93L507.3,375.48L507.8,372.58L508.3,369.21L508.7,365.37L509.2,361.07L509.7,356.37L510.1,351.34L510.6,346.08L511.1,340.72L511.6,335.41L512.0,330.33L512.5,325.64L513.0,321.52L513.4,318.14L513.9,315.62L514.4,314.08L514.8,313.58L515.3,314.15L515.8,315.75L516.2,318.32L516.7,321.76L517.2,325.91L517.6,330.63L518.1,335.73L518.6,341.05L519.0,346.40L519.5,351.65L520.0,356.67L520.4,361.35L520.9,365.62L521.4,369.43L521.8,372.78L522.3,375.65L522.8,378.07L523.2,380.08L523.7,381.71L524.2,383.02L524.6,384.05L525.1,384.84L525.6,385.44L526.0,385.89L526.5,386.23L527.0,386.47L527.4,386.64L527.9,386.76L528.4,386.84L528.9,386.90L529.3,386.93L529.8,386.96L530.3,386.97L530.7,386.98L531.2,386.99L531.7,386.99L532.1,387.00L532.6,387.00L533.1,387.00L533.5,387.00L534.0,387.00L534.5,387.00L534.9,387.00L535.4,387.00L535.9,387.00L536.3,387.00L536.8,387.00L537.3,387.00L537.7,387.00L538.2,387.00L538.7,387.00L539.1,387.00L539.6,387.00L540.1,387.00L540.5,387.00L541.0,387.00L541.5,387.00L541.9,387.00L542.4,387.00L542.9,387.00L543.3,387.00L543.8,387.00L544.3,387.00L544.7,387.00L545.2,387.00L545.7,387.00L546.1,387.00L546.6,387.00L547.1,387.00L547.6,387.00L548.0,387.00L548.5,387.00L549.0,387.00L549.4,387.00L549.9,387.00L550.4,387.00L550.8,387.00L551.3,387.00L551.8,387.00L552.2,387.00L552.7,387.00L553.2,387.00L553.6,387.00L554.1,387.00L554.6,387.00L555.0,387.00L555.5,387.00L556.0,387.00L556.4,387.00L556.9,387.00L557.4,387.00L557.8,387.00L558.3,387.00L558.8,387.00L559.2,387.00L559.7,387.00L560.2,387.00L560.6,387.00L561.1,387.00L561.6,387.00L562.0,387.00L562.5,387.00L563.0,387.00L563.4,387.00L563.9,387.00L564.4,387.00L564.9,387.00L565.3,387.00L565.8,387.00L566.3,387.00L566.7,387.00L567.2,387.00L567.7,387.00L568.1,387.00L568.6,387.00L569.1,387.00L569.5,387.00L570.0,387.00L570.5,387.00L570.9,387.00L571.4,387.00L571.9,387.00L572.3,387.00L572.8,387.00L573.3,387.00L573.7,387.00L574.2,387.00L574.7,387.00L575.1,387.00L575.6,387.00L576.1,387.00L576.5,387.00L577.0,387.00L577.5,387.00L577.9,387.00L578.4,387.00L578.9,387.00L579.3,387.00L579.8,387.00L580.3,387.00L580.7,387.00L581.2,387.00L581.7,387.00L582.1,387.00L582.6,387.00L583.1,387.00L583.6,387.00L584.0,387.00L584.5,387.00L585.0,387.00L585.4,387.00L585.9,387.00L586.4,387.00L586.8,387.00L587.3,387.00L587.8,387.00L588.2,387.00L588.7,387.00L589.2,387.00L589.6,387.00L590.1,387.00L590.6,387.00L591.0,387.00L591.5,387.00L592.0,387.00L592.4,387.00L592.9,387.00L593.4,387.00L593.8,387.00L594.3,387.00L594.8,387.00L595.2,387.00L595.7,387.00L596.2,387.00L596.6,387.00L597.1,387.00L597.6,387.00L598.0,387.00L598.5,387.00L599.0,387.00L599.4,387.00L599.9,387.00L600.4,386.99L600.9,386.99L601.3,386.99L601.8,386.98L602.3,386.97L602.7,386.96L603.2,386.94L603.7,386.92L604.1,386.89L604.6,386.84L605.1,386.79L605.5,386.71L606.0,386.61L606.5,386.48L606.9,386.30L607.4,386.08L607.9,385.80L608.3,385.43L608.8,384.98L609.3,384.41L609.7,383.70L610.2,382.82L610.7,381.75L611.1,380.46L611.6,378.91L612.1,377.05L612.5,374.86L613.0,372.29L613.5,369.29L613.9,365.84L614.4,361.90L614.9,357.43L615.3,352.41L615.8,346.83L616.3,340.67L616.7,333.94L617.2,326.67L617.7,318.88L618.1,310.63L618.6,301.98L619.1,293.02L619.6,283.84L620.0,274.57L620.5,265.33L621.0,256.26L621.4,247.50L621.9,239.21L622.4,231.52L622.8,224.59L623.3,218.55L623.8,213.51L624.2,209.58L624.7,206.84L625.2,205.34L625.6,205.13L626.1,206.20L626.6,208.52L627.0,212.06L627.5,216.74L628.0,222.46L628.4,229.11L628.9,236.56L629.4,244.67L629.8,253.29L630.3,262.27L630.8,271.47L631.2,280.75L631.7,289.97L632.2,299.01L632.6,307.77L633.1,316.17L633.6,324.12L634.0,331.57L634.5,338.48L635.0,344.83L635.4,350.61L635.9,355.82L636.4,360.47L636.9,364.58L637.3,368.19L637.8,371.33L638.3,374.04L638.7,376.36L639.2,378.32L639.7,379.97L640.1,381.35L640.6,382.49L641.1,383.42L641.5,384.18L642.0,384.80L642.5,385.29L642.9,385.68L643.4,385.99L643.9,386.23L644.3,386.42L644.8,386.57L645.3,386.68L645.7,386.76L646.2,386.83L646.7,386.87L647.1,386.91L647.6,386.93L648.1,386.95L648.5,386.97L649.0,386.98L649.5,386.98L649.9,386.99L650.4,386.99L650.9,386.99L651.3,387.00L651.8,387.00L652.3,387.00L652.7,387.00L653.2,387.00L653.7,387.00L654.1,387.00L654.6,387.00L655.1,387.00L655.6,387.00L656.0,387.00L656.5,387.00L657.0,387.00L657.4,387.00L657.9,387.00L658.4,387.00L658.8,387.00L659.3,387.00L659.8,387.00L660.2,387.00L660.7,387.00L661.2,387.00L661.6,387.00L662.1,387.00L662.6,387.00L663.0,387.00L663.5,387.00L664.0,387.00L664.4,387.00L664.9,387.00L665.4,387.00L665.8,387.00L666.3,387.00L666.8,387.00L667.2,387.00L667.7,387.00L668.2,387.00L668.6,387.00L669.1,387.00L669.6,387.00L670.0,387.00L670.5,387.00L671.0,387.00L671.4,387.00L671.9,387.00L672.4,387.00L672.9,387.00L673.3,387.00L673.8,387.00L674.3,387.00L674.7,387.00L675.2,387.00L675.7,387.00L676.1,387.00L676.6,387.00L677.1,387.00L677.5,387.00L678.0,387.00L678.5,387.00L678.9,387.00L679.4,387.00L679.9,387.00L680.3,387.00L680.8,387.00L681.3,387.00L681.7,387.00L682.2,387.00L682.7,387.00L683.1,387.00L683.6,387.00L684.1,387.00L684.5,387.00L685.0,387.00L685.5,387.00L685.9,387.00L686.4,387.00L686.9,387.00L687.3,387.00L687.8,387.00L688.3,387.00L688.7,387.00L689.2,387.00L689.7,387.00L690.1,387.00L690.6,387.00L691.1,387.00L691.6,387.00L692.0,387.00L692.5,387.00L693.0,387.00L693.4,387.00L693.9,387.00L694.4,387.00L694.8,387.00L695.3,387.00L695.8,387.00L696.2,387.00L696.7,387.00L697.2,387.00L697.6,387.00L698.1,387.00L698.6,387.00L699.0,387.00L699.5,387.00L700.0,387.00L700.4,387.00L700.9,387.00L701.4,387.00L701.8,387.00L702.3,387.00L702.8,387.00L703.2,387.00L703.7,387.00L704.2,387.00L704.6,387.00L705.1,387.00L705.6,387.00L706.0,387.00L706.5,387.00L707.0,387.00L707.4,387.00L707.9,387.00L708.4,387.00L708.9,387.00L709.3,387.00L709.8,387.00L710.3,387.00L710.7,387.00L711.2,387.00L711.7,387.00L712.1,387.00L712.6,387.00L713.1,387.00L713.5,387.00L714.0,387.00L714.5,387.00L714.9,386.99L715.4,386.99L715.9,386.99L716.3,386.99L716.8,386.99L717.3,386.99L717.7,386.98L718.2,386.98L718.7,386.97L719.1,386.96L719.6,386.95L720.1,386.94L720.5,386.93L721.0,386.91L721.5,386.88L721.9,386.85L722.4,386.81L722.9,386.77L723.3,386.71L723.8,386.64L724.3,386.56L724.7,386.45L725.2,386.33L725.7,386.17L726.1,385.99L726.6,385.77L727.1,385.51L727.6,385.20L728.0,384.83L728.5,384.40L729.0,383.89L729.4,383.30L729.9,382.61L730.4,381.82L730.8,380.90L731.3,379.86L731.8,378.66L732.2,377.31L732.7,375.79L733.2,374.07L733.6,372.15L734.1,370.01L734.6,367.65L735.0,365.04L735.5,362.19L736.0,359.07L736.4,355.69L736.9,352.04L737.4,348.13L737.8,343.94L738.3,339.51L738.8,334.82L739.2,329.91L739.7,324.78L740.2,319.46L740.6,313.99L741.1,308.40L741.6,302.71L742.0,296.98L742.5,291.25L743.0,285.56L743.4,279.97L743.9,274.52L744.4,269.28L744.9,264.28L745.3,259.59L745.8,255.26L746.3,251.32L746.7,247.83L747.2,244.82L747.7,242.33L748.1,240.38L748.6,239.00L749.1,238.21L749.5,238.01L750.0,238.40L750.5,239.38L750.9,240.93L751.4,243.04L751.9,245.68L752.3,248.81L752.8,252.40L753.3,256.40L753.7,260.77L754.2,265.45L754.7,270.41L755.1,275.58L755.6,280.91L756.1,286.34L756.5,291.84L757.0,297.35L757.5,302.82L757.9,308.21L758.4,313.48L758.9,318.59L759.3,323.52L759.8,328.24L760.3,332.73L760.7,336.96L761.2,340.93L761.7,344.63L762.1,348.04L762.6,351.18L763.1,354.04L763.6,356.63L764.0,358.95L764.5,361.01L765.0,362.82L765.4,364.40L765.9,365.76L766.4,366.91L766.8,367.86L767.3,368.63L767.8,369.24L768.2,369.70L768.7,370.01L769.2,370.20L769.6,370.27L770.1,370.24L770.6,370.11L771.0,369.90L771.5,369.62L772.0,369.26L772.4,368.85L772.9,368.38L773.4,367.86L773.8,367.30L774.3,366.70L774.8,366.07L775.2,365.40L775.7,364.71L776.2,363.99L776.6,363.24L777.1,362.47L777.6,361.68L778.0,360.88L778.5,360.06L779.0,359.22L779.4,358.36L779.9,357.50L780.4,356.62L780.9,355.73L781.3,354.83L781.8,353.92L782.3,353.00L782.7,352.07L783.2,351.13L783.7,350.19L784.1,349.25L784.6,348.30L785.1,347.35L785.5,346.39L786.0,345.44L786.5,344.48L786.9,343.53L787.4,342.58L787.9,341.63L788.3,340.68L788.8,339.74L789.3,338.81L789.7,337.88L790.2,336.96L790.7,336.06L791.1,335.16L791.6,334.27L792.1,333.40L792.5,332.54L793.0,331.70L793.5,330.87L793.9,330.07L794.4,329.28L794.9,328.51L795.3,327.76L795.8,327.03L796.3,326.33L796.7,325.65L797.2,324.99L797.7,324.37L798.1,323.77L798.6,323.19L799.1,322.65L799.6,322.13L800.0,321.65L800.5,321.19L801.0,320.77L801.4,320.38L801.9,320.03L802.4,319.70L802.8,319.41L803.3,319.16L803.8,318.94L804.2,318.76L804.7,318.61L805.2,318.50L805.6,318.42L806.1,318.38L806.6,318.37L807.0,318.41L807.5,318.47L808.0,318.58L808.4,318.72L808.9,318.89L809.4,319.10L809.8,319.35L810.3,319.63L810.8,319.95L811.2,320.29L811.7,320.67L812.2,321.09L812.6,321.53L813.1,322.01L813.6,322.52L814.0,323.06L814.5,323.62L815.0,324.22L815.4,324.84L815.9,325.49L816.4,326.16L816.9,326.86L817.3,327.58L817.8,328.32L818.3,329.09L818.7,329.87L819.2,330.68L819.7,331.50L820.1,332.34L820.6,333.19L821.1,334.06L821.5,334.94L822.0,335.84L822.5,336.74L822.9,337.66L823.4,338.58L823.9,339.52L824.3,340.45L824.8,341.40L825.3,342.35L825.7,343.30L826.2,344.25L826.7,345.21L827.1,346.16L827.6,347.12L828.1,348.07L828.5,349.02L829.0,349.97L829.5,350.91L829.9,351.85L830.4,352.78L830.9,353.70L831.3,354.62L831.8,355.52L832.3,356.42L832.7,357.31L833.2,358.19L833.7,359.05L834.1,359.91L834.6,360.75L835.1,361.58L835.6,362.39L836.0,363.20L836.5,363.98L837.0,364.76L837.4,365.52L837.9,366.26L838.4,366.99L838.8,367.70L839.3,368.40L839.8,369.08L840.2,369.75L840.7,370.40L841.2,371.03L841.6,371.65L842.1,372.25L842.6,372.84L843.0,373.41L843.5,373.96L844.0,374.50L844.4,375.02L844.9,375.53L845.4,376.02L845.8,376.49L846.3,376.95L846.8,377.40L847.2,377.83L847.7,378.24L848.2,378.64L848.6,379.03L849.1,379.40L849.6,379.76L850.0,380.11L850.5,380.44L851.0,380.76L851.4,381.07L851.9,381.36L852.4,381.65L852.9,381.92L853.3,382.18L853.8,382.43L854.3,382.67L854.7,382.90L855.2,383.12L855.7,383.33L856.1,383.52L856.6,383.71L857.1,383.90L857.5,384.07L858.0,384.23L858.5,384.39L858.9,384.54L859.4,384.68L859.9,384.82L860.3,384.95L860.8,385.07L861.3,385.18L861.7,385.29L862.2,385.40L862.7,385.49L863.1,385.59L863.6,385.68L864.1,385.76L864.5,385.84L865.0,385.91L865.5,385.98L865.9,386.05L866.4,386.11L866.9,386.17L867.3,386.22L867.8,386.27L868.3,386.32L868.7,386.37L869.2,386.41L869.7,386.45L870.1,386.49L870.6,386.53L871.1,386.56L871.6,386.59L872.0,386.62L872.5,386.65L873.0,386.67L873.4,386.70L873.9,386.72L874.4,386.74L874.8,386.76L875.3,386.78L875.8,386.79L876.2,386.81L876.7,386.82L877.2,386.84L877.6,386.85L878.1,386.86L878.6,386.87L879.0,386.88L879.5,386.89L880.0,386.90L880.4,386.91L880.9,386.92L881.4,386.92L881.8,386.93L882.3,386.93L882.8,386.94L883.2,386.94L883.7,386.95L884.2,386.95L884.6,386.96L885.1,386.96L885.6,386.96L886.0,386.97L886.5,386.97L887.0,386.97L887.4,386.98L887.9,386.98L888.4,386.98L888.9,386.98L889.3,386.98L889.8,386.98L890.3,386.99L890.7,386.99L891.2,386.99L891.7,386.99L892.1,386.99L892.6,386.99L893.1,386.99L893.5,386.99L894.0,386.99L894.5,386.99L894.9,386.99L895.4,387.00L895.9,387.00L896.3,387.00L896.8,387.00L897.3,387.00L897.7,387.00L898.2,387.00L898.7,387.00L899.1,387.00L899.6,387.00L900.1,387.00L900.5,387.00L901.0,387.00L901.5,387.00L901.9,387.00L902.4,387.00L902.9,387.00L903.3,387.00L903.8,387.00L904.3,387.00L904.7,387.00L905.2,387.00L905.7,387.00L906.1,387.00L906.6,387.00L907.1,387.00L907.6,387.00L908.0,387.00L908.5,387.00L909.0,387.00L909.4,387.00L909.9,387.00L910.4,387.00L910.8,387.00L911.3,387.00L911.8,387.00L912.2,387.00L912.7,387.00L913.2,387.00L913.6,387.00L914.1,387.00L914.6,387.00L915.0,387.00L915.5,387.00L916.0,387.00L916.4,387.00L916.9,387.00L917.4,387.00L917.8,387.00L918.3,387.00L918.8,387.00L919.2,387.00L919.7,387.00L920.2,387.00L920.6,387.00L921.1,387.00L921.6,387.00L922.0,387.00L922.5,387.00L923.0,387.00L923.4,387.00L923.9,387.00L924.4,387.00L924.9,387.00L925.3,387.00L925.8,387.00L926.3,387.00L926.7,387.00L927.2,387.00L927.7,387.00L928.1,387.00L928.6,387.00L929.1,387.00L929.5,387.00L930.0,387.00L930.5,387.00L930.9,387.00L931.4,387.00L931.9,387.00L932.3,387.00L932.8,387.00L933.3,387.00L933.7,387.00L934.2,387.00L934.7,387.00L935.1,387.00L935.6,387.00L936.1,387.00L936.5,387.00L937.0,387.00L937.5,387.00L937.9,387.00L938.4,387.00L938.9,387.00L939.3,387.00L939.8,387.00L940.3,387.00L940.7,387.00L941.2,387.00L941.7,387.00L942.1,387.00L942.6,387.00L943.1,387.00L943.6,387.00L944.0,387.00L944.5,387.00L945.0,387.00L945.4,387.00L945.9,387.00L946.4,387.00L946.8,387.00L947.3,387.00L947.8,387.00L948.2,387.00L948.7,387.00L949.2,387.00L949.6,387.00L950.1,387.00L950.6,387.00L951.0,387.00L951.5,387.00L952.0,387.00L952.4,387.00L952.9,387.00L953.4,387.00L953.8,387.00L954.3,387.00L954.8,387.00L955.2,387.00L955.7,387.00L956.2,387.00L956.6,387.00L957.1,387.00L957.6,387.00L958.0,387.00L958.5,387.00L959.0,387.00L959.4,387.00L959.9,387.00L960.4,387.00L960.9,387.00L961.3,387.00L961.8,387.00L962.3,387.00L962.7,387.00L963.2,387.00L963.7,387.00L964.1,387.00L964.6,387.00L965.1,387.00L965.5,387.00L966.0,387.00L966.5,387.00L966.9,387.00L967.4,387.00L967.9,387.00L968.3,387.00L968.8,387.00L969.3,387.00L969.7,387.00L970.2,387.00L970.7,387.00L971.1,387.00L971.6,387.00L972.1,387.00L972.5,387.00L973.0,387.00L973.5,387.00L973.9,387.00L974.4,387.00L974.9,387.00L975.3,387.00L975.8,387.00L976.3,387.00L976.7,387.00L977.2,387.00L977.7,387.00L978.1,387.00L978.6,387.00L979.1,387.00L979.6,387.00L980.0,387.00L980.5,387.00L981.0,387.00L981.4,387.00L981.9,387.00L982.4,387.00L982.8,387.00L983.3,387.00L983.8,387.00L984.2,387.00L984.7,387.00L985.2,387.00L985.6,387.00L986.1,387.00L986.6,387.00L987.0,387.00L987.5,387.00L988.0,387.00L988.4,387.00L988.9,387.00L989.4,387.00L989.8,387.00L990.3,387.00L990.8,387.00L991.2,387.00L991.7,387.00L992.2,387.00L992.6,387.00L993.1,387.00L993.6,387.00L994.0,387.00L994.5,387.00L995.0,387.00L995.4,387.00L995.9,387.00L996.4,387.00L996.9,387.00L997.3,387.00L997.8,387.00L998.3,387.00L998.7,387.00L999.2,387.00L999.7,387.00L1000.1,387.00L1000.6,387.00L1001.1,387.00L1001.5,387.00L1002.0,387.00L1002.5,387.00L1002.9,387.00L1003.4,387.00L1003.9,387.00L1004.3,387.00L1004.8,387.00L1005.3,387.00L1005.7,387.00L1006.2,387.00L1006.7,387.00L1007.1,387.00L1007.6,387.00L1008.1,387.00L1008.5,387.00L1009.0,387.00L1009.5,387.00L1009.9,387.00L1010.4,387.00L1010.9,387.00L1011.3,387.00L1011.8,387.00L1012.3,387.00L1012.7,387.00L1013.2,387.00L1013.7,387.00L1014.1,387.00L1014.6,387.00L1015.1,387.00L1015.6,387.00L1016.0,387.00L1016.5,387.00L1017.0,387.00L1017.4,387.00L1017.9,387.00L1018.4,387.00L1018.8,387.00L1019.3,387.00L1019.8,387.00L1020.2,387.00L1020.7,387.00L1021.2,387.00L1021.6,387.00L1022.1,387.00L1022.6,387.00L1023.0,387.00L1023.5,387.00L1024.0,387.00L1024.4,387.00L1024.9,387.00L1025.4,387.00L1025.8,387.00L1026.3,387.00L1026.8,387.00L1027.2,387.00L1027.7,387.00L1028.2,387.00L1028.6,387.00L1029.1,387.00L1029.6,387.00L1030.0,387.00L1030.5,387.00L1031.0,387.00L1031.4,387.00L1031.9,387.00L1032.4,387.00L1032.9,387.00L1033.3,387.00L1033.8,387.00L1034.3,387.00L1034.7,387.00L1035.2,387.00L1035.7,387.00L1036.1,387.00L1036.6,387.00L1037.1,387.00L1037.5,387.00L1038.0,387.00L1038.5,387.00L1038.9,387.00L1039.4,387.00L1039.9,387.00L1040.3,387.00L1040.8,387.00L1041.3,387.00L1041.7,387.00L1042.2,387.00L1042.7,387.00L1043.1,387.00L1043.6,387.00L1044.1,387.00L1044.5,387.00L1045.0,387.00L1045.5,387.00L1045.9,387.00L1046.4,387.00L1046.9,387.00L1047.3,387.00L1047.8,387.00L1048.3,387.00L1048.7,387.00L1049.2,387.00L1049.7,387.00L1050.1,387.00L1050.6,387.00L1051.1,387.00L1051.6,387.00L1052.0,387.00L1052.5,387.00L1053.0,387.00L1053.4,387.00L1053.9,387.00L1054.4,387.00L1054.8,387.00L1055.3,387.00L1055.8,387.00L1056.2,387.00L1056.7,387.00L1057.2,387.00L1057.6,387.00L1058.1,387.00L1058.6,387.00L1059.0,387.00L1059.5,387.00L1060.0,387.00L1060.4,386.99L1060.9,386.99L1061.4,386.99L1061.8,386.99L1062.3,386.99L1062.8,386.98L1063.2,386.98L1063.7,386.97L1064.2,386.97L1064.6,386.96L1065.1,386.95L1065.6,386.94L1066.0,386.92L1066.5,386.90L1067.0,386.88L1067.4,386.86L1067.9,386.83L1068.4,386.79L1068.9,386.74L1069.3,386.69L1069.8,386.63L1070.3,386.56L1070.7,386.47L1071.2,386.37L1071.7,386.25L1072.1,386.11L1072.6,385.96L1073.1,385.77L1073.5,385.56L1074.0,385.32L1074.5,385.04L1074.9,384.72L1075.4,384.37L1075.9,383.96L1076.3,383.50L1076.8,382.99L1077.3,382.41L1077.7,381.77L1078.2,381.06L1078.7,380.27L1079.1,379.40L1079.6,378.44L1080.1,377.39L1080.5,376.25L1081.0,375.01L1081.5,373.66L1081.9,372.22L1082.4,370.66L1082.9,369.00L1083.3,367.23L1083.8,365.35L1084.3,363.37L1084.7,361.28L1085.2,359.10L1085.7,356.83L1086.1,354.47L1086.6,352.04L1087.1,349.54L1087.6,346.98L1088.0,344.39L1088.5,341.76L1089.0,339.13L1089.4,336.49L1089.9,333.88L1090.4,331.30L1090.8,328.78L1091.3,326.33L1091.8,323.97L1092.2,321.73L1092.7,319.61L1093.2,317.64L1093.6,315.84L1094.1,314.21L1094.6,312.77L1095.0,311.54L1095.5,310.53L1096.0,309.74L1096.4,309.19L1096.9,308.87L1097.4,308.80L1097.8,308.97L1098.3,309.38L1098.8,310.02L1099.2,310.90L1099.7,311.99L1100.2,313.30L1100.6,314.81L1101.1,316.51L1101.6,318.38L1102.0,320.41L1102.5,322.58L1103.0,324.87L1103.4,327.26L1103.9,329.74L1104.4,332.29L1104.9,334.88L1105.3,337.51L1105.8,340.14L1106.3,342.78L1106.7,345.39L1107.2,347.97L1107.7,350.50L1108.1,352.97L1108.6,355.37L1109.1,357.68L1109.5,359.90L1110.0,362.01L1110.5,364.00L1110.9,365.86L1111.4,367.58L1111.9,369.13L1112.3,370.50L1112.8,371.66L1113.3,372.59L1113.7,373.25L1114.2,373.62L1114.7,373.65L1115.1,373.32L1115.6,372.61L1116.1,371.50L1116.5,370.00L1117.0,368.12L1117.5,365.92L1117.9,363.46L1118.4,360.83L1118.9,358.16L1119.3,355.57L1119.8,353.19L1120.3,351.17L1120.7,349.63L1121.2,348.67L1121.7,348.36L1122.1,348.73L1122.6,349.77L1123.1,351.43L1123.6,353.65L1124.0,356.29L1124.5,359.25L1125.0,362.39L1125.4,365.58L1125.9,368.70L1126.4,371.65L1126.8,374.37L1127.3,376.80L1127.8,378.92L1128.2,380.71L1128.7,382.20L1129.2,383.40L1129.6,384.36L1130.1,385.09L1130.6,385.65L1131.0,386.06L1131.5,386.36L1132.0,386.57L1132.4,386.71L1132.9,386.81L1133.4,386.88L1133.8,386.93L1134.3,386.95L1134.8,386.97L1135.2,386.98L1135.7,386.99L1136.2,386.99L1136.6,387.00L1137.1,387.00L1137.6,387.00L1138.0,387.00L1138.5,387.00L1139.0,387.00L1139.4,387.00L1139.9,387.00L1140.4,387.00L1140.9,387.00L1141.3,387.00L1141.8,387.00L1142.3,387.00L1142.7,387.00L1143.2,387.00L1143.7,387.00L1144.1,387.00L1144.6,387.00L1145.1,387.00L1145.5,387.00L1146.0,387.00L1146.5,387.00L1146.9,387.00L1147.4,387.00L1147.9,387.00L1148.3,387.00L1148.8,387.00L1149.3,387.00L1149.7,387.00L1150.2,387.00L1150.7,387.00L1151.1,387.00L1151.6,387.00L1152.1,387.00L1152.5,387.00L1153.0,387.00L1153.5,387.00L1153.9,387.00L1154.4,387.00L1154.9,387.00L1155.3,387.00L1155.8,387.00L1156.3,387.00L1156.7,387.00L1157.2,387.00L1157.7,387.00L1158.1,387.00L1158.6,387.00L1159.1,387.00L1159.6,387.00L1160.0,387.00L1160.5,387.00L1161.0,387.00L1161.4,387.00L1161.9,387.00L1162.4,387.00L1162.8,387.00L1163.3,387.00L1163.8,387.00L1164.2,387.00L1164.7,387.00L1165.2,387.00L1165.6,387.00L1166.1,387.00L1166.6,387.00L1167.0,387.00L1167.5,387.00L1168.0,387.00L1168.4,387.00L1168.9,387.00L1169.4,387.00L1169.8,387.00L1170.3,387.00L1170.8,387.00L1171.2,387.00L1171.7,387.00L1172.2,387.00L1172.6,387.00L1173.1,387.00L1173.6,387.00L1174.0,387.00L1174.5,387.00L1175.0,387.00L1175.4,387.00L1175.9,387.00L1176.4,387.00L1176.9,387.00L1177.3,387.00L1177.8,387.00L1178.3,387.00L1178.7,387.00L1179.2,387.00L1179.7,387.00L1180.1,387.00L1180.6,387.00L1181.1,387.00L1181.5,387.00L1182.0,387.00L1182.5,387.00L1182.9,387.00L1183.4,387.00L1183.9,387.00L1184.3,387.00L1184.8,387.00L1185.3,387.00L1185.7,387.00L1186.2,387.00L1186.7,387.00L1187.1,387.00L1187.6,387.00L1188.1,387.00L1188.5,387.00L1189.0,387.00L1189.5,387.00L1189.9,387.00L1190.4,387.00L1190.9,387.00L1191.3,387.00L1191.8,387.00L1192.3,387.00L1192.7,387.00L1193.2,387.00L1193.7,387.00L1194.1,387.00L1194.6,387.00L1195.1,387.00L1195.6,387.00L1196.0,387.00L1196.5,387.00L1197.0,387.00L1197.4,387.00L1197.9,387.00L1198.4,387.00L1198.8,387.00L1199.3,387.00L1199.8,387.00L1200.2,387.00L1200.7,387.00L1201.2,387.00L1201.6,387.00L1202.1,387.00L1202.6,387.00L1203.0,387.00L1203.5,387.00L1204.0,387.00L1204.4,387.00L1204.9,387.00L1205.4,387.00L1205.8,387.00L1206.3,387.00L1206.8,387.00L1207.2,387.00L1207.7,387.00L1208.2,387.00L1208.6,387.00L1209.1,387.00L1209.6,387.00L1210.0,387.00L1210.5,387.00L1211.0,387.00L1211.4,387.00L1211.9,387.00L1212.4,387.00L1212.9,387.00L1213.3,387.00L1213.8,387.00L1214.3,387.00L1214.7,387.00L1215.2,387.00L1215.7,387.00L1216.1,387.00L1216.6,387.00L1217.1,387.00L1217.5,387.00L1218.0,387.00L1218.5,387.00L1218.9,387.00L1219.4,387.00L1219.9,387.00L1220.3,387.00L1220.8,387.00L1221.3,387.00L1221.7,387.00L1222.2,387.00L1222.7,387.00L1223.1,387.00L1223.6,387.00L1224.1,387.00L1224.5,387.00L1225.0,387.00L1225.5,387.00L1225.9,387.00L1226.4,387.00L1226.9,387.00L1227.3,387.00L1227.8,387.00L1228.3,387.00L1228.7,387.00L1229.2,387.00L1229.7,387.00L1230.1,387.00L1230.6,387.00L1231.1,387.00L1231.6,387.00L1232.0,387.00L1232.5,387.00L1233.0,387.00L1233.4,387.00L1233.9,387.00L1234.4,387.00L1234.8,387.00L1235.3,387.00L1235.8,387.00L1236.2,387.00L1236.7,387.00L1237.2,387.00L1237.6,387.00L1238.1,387.00L1238.6,387.00L1239.0,387.00L1239.5,387.00L1240.0,387.00L1240.4,387.00L1240.9,387.00L1241.4,387.00L1241.8,387.00L1242.3,387.00L1242.8,387.00L1243.2,387.00L1243.7,387.00L1244.2,387.00L1244.6,387.00L1245.1,387.00L1245.6,387.00L1246.0,387.00L1246.5,387.00L1247.0,387.00L1247.4,387.00L1247.9,387.00L1248.4,387.00L1248.9,387.00L1249.3,387.00L1249.8,387.00L1250.3,387.00L1250.7,387.00L1251.2,387.00L1251.7,387.00L1252.1,387.00L1252.6,387.00L1253.1,387.00L1253.5,387.00L1254.0,387.00L1254.5,387.00L1254.9,387.00L1255.4,387.00L1255.9,387.00L1256.3,387.00L1256.8,387.00L1257.3,387.00L1257.7,387.00L1258.2,387.00L1258.7,387.00L1259.1,387.00L1259.6,387.00L1260.1,387.00L1260.5,387.00L1261.0,387.00L1261.5,387.00L1261.9,387.00L1262.4,387.00L1262.9,387.00L1263.3,387.00L1263.8,387.00L1264.3,387.00L1264.7,387.00L1265.2,387.00L1265.7,387.00L1266.1,387.00L1266.6,387.00L1267.1,387.00L1267.6,387.00L1268.0,387.00L1268.5,387.00L1269.0,387.00L1269.4,387.00L1269.9,387.00L1270.4,387.00L1270.8,387.00L1271.3,387.00L1271.8,387.00L1272.2,387.00L1272.7,387.00L1273.2,387.00L1273.6,387.00L1274.1,387.00L1274.6,387.00L1275.0,387.00L1275.5,387.00L1276.0,387.00L1276.4,387.00L1276.9,387.00L1277.4,387.00L1277.8,387.00L1278.3,387.00L1278.8,387.00L1279.2,387.00L1279.7,387.00L1280.2,387.00L1280.6,387.00L1281.1,387.00L1281.6,387.00L1282.0,387.00L1282.5,387.00L1283.0,387.00L1283.4,387.00L1283.9,387.00L1284.4,387.00L1284.9,387.00L1285.3,387.00L1285.8,387.00L1286.3,387.00L1286.7,387.00L1287.2,387.00L1287.7,387.00L1288.1,387.00L1288.6,387.00L1289.1,387.00L1289.5,387.00L1290.0,387.00L1290.5,387.00L1290.9,387.00L1291.4,387.00L1291.9,387.00L1292.3,387.00L1292.8,387.00L1293.3,387.00L1293.7,387.00L1294.2,387.00L1294.7,387.00L1295.1,387.00L1295.6,387.00L1296.1,387.00L1296.5,387.00L1297.0,387.00L1297.5,387.00L1297.9,387.00L1298.4,387.00L1298.9,387.00L1299.3,387.00L1299.8,387.00L1300.3,387.00L1300.7,387.00L1301.2,387.00L1301.7,387.00L1302.1,387.00L1302.6,387.00L1303.1,387.00L1303.6,387.00L1304.0,387.00L1304.5,387.00L1305.0,387.00L1305.4,387.00L1305.9,387.00L1306.4,387.00L1306.8,387.00L1307.3,387.00L1307.8,387.00L1308.2,387.00L1308.7,387.00L1309.2,387.00L1309.6,387.00L1310.1,387.00L1310.6,387.00L1311.0,387.00L1311.5,387.00L1312.0,387.00L1312.4,387.00L1312.9,387.00L1313.4,387.00L1313.8,387.00L1314.3,387.00" stroke="#f00"/>
<path d="M187.2,465.3L190.6,465.3L190.6,460.9L194.0,460.9L194.0,484.1L197.5,484.1L197.5,436.7L200.9,436.7L200.9,473.3L204.3,473.3L204.3,462.2L207.7,462.2L207.7,457.8L211.2,457.8L211.2,457.5L214.6,457.5L214.6,463.2L218.0,463.2L218.0,492.1L221.4,492.1L221.4,475.4L224.9,475.4L224.9,458.4L228.3,458.4L228.3,473.9L231.7,473.9L231.7,475.1L235.1,475.1L235.1,487.0L238.6,487.0L238.6,454.3L242.0,454.3L242.0,460.8L245.4,460.8L245.4,473.7L248.8,473.7L248.8,466.7L252.3,466.7L252.3,466.4L255.7,466.4L255.7,475.8L259.1,475.8L259.1,468.1L262.5,468.1L262.5,463.2L266.0,463.2L266.0,460.5L269.4,460.5L269.4,454.0L272.8,454.0L272.8,465.3L276.2,465.3L276.2,469.8L279.7,469.8L279.7,461.9L283.1,461.9L283.1,471.4L286.5,471.4L286.5,477.1L289.9,477.1L289.9,455.1L293.3,455.1L293.3,469.1L296.8,469.1L296.8,464.5L300.2,464.5L300.2,459.7L303.6,459.7L303.6,475.8L307.0,475.8L307.0,459.7L310.5,459.7L310.5,461.5L313.9,461.5L313.9,466.5L317.3,466.5L317.3,462.0L320.7,462.0L320.7,472.6L324.2,472.6L324.2,485.8L327.6,485.8L327.6,468.2L331.0,468.2L331.0,474.0L334.4,474.0L334.4,457.6L337.9,457.6L337.9,463.2L341.3,463.2L341.3,470.5L344.7,470.5L344.7,465.2L348.1,465.2L348.1,453.2L351.6,453.2L351.6,455.2L355.0,455.2L355.0,462.2L358.4,462.2L358.4,461.6L361.8,461.6L361.8,468.1L365.3,468.1L365.3,466.5L368.7,466.5L368.7,458.5L372.1,458.5L372.1,458.9L375.5,458.9L375.5,437.6L379.0,437.6L379.0,417.3L382.4,417.3L382.4,374.0L385.8,374.0L385.8,348.6L389.2,348.6L389.2,377.1L392.7,377.1L392.7,401.2L396.1,401.2L396.1,428.8L399.5,428.8L399.5,459.8L402.9,459.8L402.9,469.8L406.4,469.8L406.4,452.8L409.8,452.8L409.8,459.4L413.2,459.4L413.2,477.7L416.6,477.7L416.6,455.8L420.1,455.8L420.1,463.9L423.5,463.9L423.5,453.4L426.9,453.4L426.9,462.4L430.3,462.4L430.3,457.3L433.8,457.3L433.8,462.5L437.2,462.5L437.2,474.2L440.6,474.2L440.6,467.6L444.0,467.6L444.0,471.7L447.5,471.7L447.5,457.9L450.9,457.9L450.9,474.6L454.3,474.6L454.3,479.6L457.7,479.6L457.7,459.2L461.2,459.2L461.2,454.9L464.6,454.9L464.6,452.2L468.0,452.2L468.0,455.4L471.4,455.4L471.4,479.3L474.9,479.3L474.9,471.9L478.3,471.9L478.3,470.5L481.7,470.5L481.7,465.7L485.1,465.7L485.1,485.2L488.6,485.2L488.6,465.5L492.0,465.5L492.0,462.9L495.4,462.9L495.4,474.2L498.8,474.2L498.8,464.4L502.3,464.4L502.3,454.5L505.7,454.5L505.7,465.0L509.1,465.0L509.1,455.7L512.5,455.7L512.5,456.1L516.0,456.1L516.0,461.7L519.4,461.7L519.4,461.9L522.8,461.9L522.8,468.8L526.2,468.8L526.2,454.0L529.7,454.0L529.7,469.7L533.1,469.7L533.1,471.8L536.5,471.8L536.5,458.9L539.9,458.9L539.9,472.1L543.4,472.1L543.4,461.5L546.8,461.5L546.8,455.7L550.2,455.7L550.2,464.6L553.6,464.6L553.6,464.4L557.1,464.4L557.1,456.9L560.5,456.9L560.5,458.4L563.9,458.4L563.9,479.5L567.3,479.5L567.3,477.4L570.8,477.4L570.8,453.1L574.2,453.1L574.2,461.7L577.6,461.7L577.6,484.4L581.0,484.4L581.0,477.7L584.5,477.7L584.5,465.1L587.9,465.1L587.9,474.3L591.3,474.3L591.3,461.0L594.7,461.0L594.7,464.6L598.2,464.6L598.2,460.8L601.6,460.8L601.6,476.0L605.0,476.0L605.0,459.5L608.4,459.5L608.4,446.8L611.9,446.8L611.9,469.7L615.3,469.7L615.3,443.1L618.7,443.1L618.7,432.7L622.1,432.7L622.1,408.9L625.6,408.9L625.6,432.7L629.0,432.7L629.0,457.4L632.4,457.4L632.4,466.3L635.8,466.3L635.8,456.5L639.3,456.5L639.3,455.9L642.7,455.9L642.7,453.9L646.1,453.9L646.1,456.3L649.5,456.3L649.5,456.9L653.0,456.9L653.0,469.1L656.4,469.1L656.4,476.2L659.8,476.2L659.8,463.2L663.2,463.2L663.2,460.5L666.7,460.5L666.7,464.3L670.1,464.3L670.1,479.1L673.5,479.1L673.5,469.9L676.9,469.9L676.9,478.7L680.4,478.7L680.4,463.8L683.8,463.8L683.8,474.7L687.2,474.7L687.2,466.6L690.6,466.6L690.6,462.1L694.1,462.1L694.1,463.8L697.5,463.8L697.5,452.5L700.9,452.5L700.9,475.2L704.3,475.2L704.3,485.1L707.8,485.1L707.8,456.4L711.2,456.4L711.2,452.2L714.6,452.2L714.6,451.9L718.0,451.9L718.0,462.4L721.5,462.4L721.5,460.1L724.9,460.1L724.9,463.9L728.3,463.9L728.3,476.9L731.7,476.9L731.7,470.2L735.2,470.2L735.2,459.7L738.6,459.7L738.6,464.3L742.0,464.3L742.0,422.7L745.4,422.7L745.4,424.7L748.9,424.7L748.9,405.7L752.3,405.7L752.3,415.7L755.7,415.7L755.7,457.8L759.1,457.8L759.1,473.1L762.6,473.1L762.6,477.2L766.0,477.2L766.0,471.6L769.4,471.6L769.4,451.1L772.8,451.1L772.8,461.2L776.3,461.2L776.3,460.2L779.7,460.2L779.7,469.7L783.1,469.7L783.1,457.2L786.5,457.2L786.5,464.0L790.0,464.0L790.0,473.4L793.4,473.4L793.4,469.1L796.8,469.1L796.8,463.1L800.2,463.1L800.2,454.2L803.7,454.2L803.7,465.5L807.1,465.5L807.1,460.4L810.5,460.4L810.5,446.4L813.9,446.4L813.9,472.3L817.4,472.3L817.4,476.4L820.8,476.4L820.8,455.9L824.2,455.9L824.2,461.0L827.6,461.0L827.6,465.9L831.1,465.9L831.1,462.6L834.5,462.6L834.5,468.0L837.9,468.0L837.9,460.3L841.3,460.3L841.3,468.1L844.8,468.1L844.8,457.7L848.2,457.7L848.2,475.7L851.6,475.7L851.6,472.5L855.0,472.5L855.0,463.9L858.5,463.9L858.5,469.3L861.9,469.3L861.9,458.6L865.3,458.6L865.3,465.4L868.7,465.4L868.7,470.0L872.2,470.0L872.2,463.1L875.6,463.1L875.6,469.9L879.0,469.9L879.0,479.3L882.4,479.3L882.4,475.4L885.9,475.4L885.9,472.4L889.3,472.4L889.3,469.3L892.7,469.3L892.7,464.1L896.1,464.1L896.1,456.7L899.6,456.7L899.6,460.0L903.0,460.0L903.0,448.7L906.4,448.7L906.4,453.3L909.8,453.3L909.8,466.7L913.3,466.7L913.3,449.9L916.7,449.9L916.7,454.2L920.1,454.2L920.1,469.2L923.5,469.2L923.5,462.2L927.0,462.2L927.0,455.0L930.4,455.0L930.4,462.8L933.8,462.8L933.8,455.7L937.2,455.7L937.2,461.4L940.7,461.4L940.7,458.6L944.1,458.6L944.1,467.9L947.5,467.9L947.5,461.5L950.9,461.5L950.9,468.4L954.4,468.4L954.4,458.8L957.8,458.8L957.8,480.5L961.2,480.5L961.2,462.0L964.6,462.0L964.6,453.6L968.1,453.6L968.1,459.7L971.5,459.7L971.5,465.3L974.9,465.3L974.9,460.1L978.3,460.1L978.3,472.8L981.8,472.8L981.8,472.7L985.2,472.7L985.2,468.4L988.6,468.4L988.6,466.4L992.0,466.4L992.0,456.2L995.5,456.2L995.5,473.3L998.9,473.3L998.9,455.9L1002.3,455.9L1002.3,479.5L1005.7,479.5L1005.7,472.3L1009.2,472.3L1009.2,465.4L1012.6,465.4L1012.6,454.5L1016.0,454.5L1016.0,470.7L1019.4,470.7L1019.4,484.8L1022.9,484.8L1022.9,461.3L1026.3,461.3L1026.3,465.4L1029.7,465.4L1029.7,475.1L1033.1,475.1L1033.1,474.7L1036.6,474.7L1036.6,471.5L1040.0,471.5L1040.0,464.2L1043.4,464.2L1043.4,459.1L1046.8,459.1L1046.8,478.7L1050.3,478.7L1050.3,444.2L1053.7,444.2L1053.7,465.5L1057.1,465.5L1057.1,468.6L1060.5,468.6L1060.5,459.0L1064.0,459.0L1064.0,464.2L1067.4,464.2L1067.4,443.7L1070.8,443.7L1070.8,455.1L1074.2,455.1L1074.2,468.5L1077.7,468.5L1077.7,468.5L1081.1,468.5L1081.1,468.6L1084.5,468.6L1084.5,465.4L1087.9,465.4L1087.9,453.3L1091.4,453.3L1091.4,462.6L1094.8,462.6L1094.8,440.9L1098.2,440.9L1098.2,457.9L1101.6,457.9L1101.6,461.4L1105.1,461.4L1105.1,454.1L1108.5,454.1L1108.5,482.5L1111.9,482.5L1111.9,473.6L1115.3,473.6L1115.3,459.7L1118.8,459.7L1118.8,465.2L1122.2,465.2L1122.2,465.4L1125.6,465.4L1125.6,461.6L1129.0,461.6L1129.0,470.8L1132.5,470.8L1132.5,466.9L1135.9,466.9L1135.9,477.8L1139.3,477.8L1139.3,482.5L1142.7,482.5L1142.7,453.7L1146.2,453.7L1146.2,473.9L1149.6,473.9L1149.6,471.9L1153.0,471.9L1153.0,452.5L1156.4,452.5L1156.4,455.6L1159.9,455.6L1159.9,470.2L1163.3,470.2L1163.3,470.2L1166.7,470.2L1166.7,466.1L1170.1,466.1L1170.1,474.1L1173.6,474.1L1173.6,460.3L1177.0,460.3L1177.0,464.1L1180.4,464.1L1180.4,464.2L1183.8,464.2L1183.8,458.5L1187.3,458.5L1187.3,458.8L1190.7,458.8L1190.7,448.5L1194.1,448.5L1194.1,451.5L1197.5,451.5L1197.5,481.1L1201.0,481.1L1201.0,457.2L1204.4,457.2L1204.4,475.7L1207.8,475.7L1207.8,478.5L1211.2,478.5L1211.2,458.9L1214.7,458.9L1214.7,471.9L1218.1,471.9L1218.1,468.3L1221.5,468.3L1221.5,455.6L1224.9,455.6L1224.9,471.5L1228.4,471.5L1228.4,473.7L1231.8,473.7L1231.8,462.5L1235.2,462.5L1235.2,454.2L1238.6,454.2L1238.6,460.6L1242.1,460.6L1242.1,479.7L1245.5,479.7L1245.5,471.5L1248.9,471.5L1248.9,466.9L1252.3,466.9L1252.3,447.8L1255.8,447.8L1255.8,457.3L1259.2,457.3L1259.2,457.7L1262.6,457.7L1262.6,454.5L1266.0,454.5L1266.0,468.3L1269.5,468.3L1269.5,461.1L1272.9,461.1L1272.9,461.0L1276.3,461.0L1276.3,474.5L1279.7,474.5L1279.7,465.7L1283.2,465.7L1283.2,460.4L1286.6,460.4L1286.6,475.4L1290.0,475.4L1290.0,458.1L1293.4,458.1L1293.4,458.6L1296.9,458.6L1296.9,456.1L1300.3,456.1L1300.3,472.7L1303.7,472.7L1303.7,464.6L1307.1,464.6L1307.1,452.2L1310.6,452.2L1310.6,458.3L1314.0,458.3L1314.0,472.8L1317.4,472.8" stroke="#808080"/>
<path d="M187.2,463.5L190.6,463.5L190.6,452.6L194.0,452.6L194.0,466.3L197.5,466.3L197.5,462.1L200.9,462.1L200.9,442.0L204.3,442.0L204.3,465.9L207.7,465.9L207.7,466.6L211.2,466.6L211.2,474.8L214.6,474.8L214.6,471.6L218.0,471.6L218.0,452.0L221.4,452.0L221.4,466.9L224.9,466.9L224.9,476.5L228.3,476.5L228.3,474.1L231.7,474.1L231.7,465.5L235.1,465.5L235.1,458.6L238.6,458.6L238.6,472.4L242.0,472.4L242.0,459.1L245.4,459.1L245.4,470.1L248.8,470.1L248.8,462.3L252.3,462.3L252.3,460.9L255.7,460.9L255.7,460.1L259.1,460.1L259.1,469.6L262.5,469.6L262.5,467.2L266.0,467.2L266.0,461.0L269.4,461.0L269.4,477.5L272.8,477.5L272.8,464.1L276.2,464.1L276.2,461.0L279.7,461.0L279.7,456.1L283.1,456.1L283.1,466.0L286.5,466.0L286.5,467.4L289.9,467.4L289.9,464.4L293.3,464.4L293.3,472.5L296.8,472.5L296.8,467.7L300.2,467.7L300.2,462.0L303.6,462.0L303.6,463.2L307.0,463.2L307.0,475.3L310.5,475.3L310.5,468.8L313.9,468.8L313.9,485.2L317.3,485.2L317.3,458.4L320.7,458.4L320.7,470.7L324.2,470.7L324.2,463.6L327.6,463.6L327.6,475.9L331.0,475.9L331.0,466.6L334.4,466.6L334.4,461.7L337.9,461.7L337.9,456.8L341.3,456.8L341.3,478.3L344.7,478.3L344.7,458.1L348.1,458.1L348.1,467.4L351.6,467.4L351.6,473.0L355.0,473.0L355.0,461.5L358.4,461.5L358.4,468.6L361.8,468.6L361.8,468.6L365.3,468.6L365.3,472.1L368.7,472.1L368.7,462.1L372.1,462.1L372.1,457.8L375.5,457.8L375.5,442.2L379.0,442.2L379.0,416.1L382.4,416.1L382.4,363.7L385.8,363.7L385.8,329.6L389.2,329.6L389.2,361.7L392.7,361.7L392.7,413.9L396.1,413.9L396.1,427.0L399.5,427.0L399.5,451.1L402.9,451.1L402.9,465.8L406.4,465.8L406.4,454.6L409.8,454.6L409.8,472.8L413.2,472.8L413.2,461.7L416.6,461.7L416.6,456.0L420.1,456.0L420.1,468.7L423.5,468.7L423.5,466.6L426.9,466.6L426.9,443.2L430.3,443.2L430.3,463.6L433.8,463.6L433.8,463.4L437.2,463.4L437.2,458.6L440.6,458.6L440.6,466.7L444.0,466.7L444.0,466.6L447.5,466.6L447.5,462.3L450.9,462.3L450.9,487.7L454.3,487.7L454.3,452.8L457.7,452.8L457.7,475.6L461.2,475.6L461.2,475.7L464.6,475.7L464.6,460.8L468.0,460.8L468.0,465.5L471.4,465.5L471.4,477.2L474.9,477.2L474.9,463.8L478.3,463.8L478.3,476.2L481.7,476.2L481.7,472.1L485.1,472.1L485.1,479.5L488.6,479.5L488.6,473.3L492.0,473.3L492.0,462.1L495.4,462.1L495.4,464.6L498.8,464.6L498.8,462.9L502.3,462.9L502.3,457.3L505.7,457.3L505.7,466.1L509.1,466.1L509.1,471.7L512.5,471.7L512.5,468.3L516.0,468.3L516.0,450.6L519.4,450.6L519.4,465.4L522.8,465.4L522.8,462.8L526.2,462.8L526.2,466.6L529.7,466.6L529.7,463.4L533.1,463.4L533.1,461.7L536.5,461.7L536.5,465.8L539.9,465.8L539.9,467.1L543.4,467.1L543.4,472.8L546.8,472.8L546.8,473.4L550.2,473.4L550.2,461.9L553.6,461.9L553.6,458.8L557.1,458.8L557.1,457.2L560.5,457.2L560.5,465.1L563.9,465.1L563.9,473.2L567.3,473.2L567.3,459.9L570.8,459.9L570.8,460.0L574.2,460.0L574.2,479.4L577.6,479.4L577.6,458.3L581.0,458.3L581.0,460.3L584.5,460.3L584.5,450.3L587.9,450.3L587.9,475.9L591.3,475.9L591.3,477.3L594.7,477.3L594.7,458.4L598.2,458.4L598.2,482.0L601.6,482.0L601.6,472.3L605.0,472.3L605.0,475.5L608.4,475.5L608.4,474.3L611.9,474.3L611.9,480.2L615.3,480.2L615.3,457.7L618.7,457.7L618.7,433.1L622.1,433.1L622.1,411.1L625.6,411.1L625.6,428.3L629.0,428.3L629.0,450.3L632.4,450.3L632.4,445.3L635.8,445.3L635.8,459.0L639.3,459.0L639.3,455.6L642.7,455.6L642.7,479.6L646.1,479.6L646.1,462.3L649.5,462.3L649.5,475.9L653.0,475.9L653.0,462.2L656.4,462.2L656.4,463.6L659.8,463.6L659.8,475.7L663.2,475.7L663.2,463.8L666.7,463.8L666.7,454.8L670.1,454.8L670.1,460.8L673.5,460.8L673.5,460.0L676.9,460.0L676.9,473.2L680.4,473.2L680.4,471.6L683.8,471.6L683.8,475.5L687.2,475.5L687.2,464.1L690.6,464.1L690.6,454.4L694.1,454.4L694.1,461.3L697.5,461.3L697.5,465.3L700.9,465.3L700.9,475.5L704.3,475.5L704.3,461.2L707.8,461.2L707.8,467.5L711.2,467.5L711.2,482.7L714.6,482.7L714.6,481.1L718.0,481.1L718.0,468.4L721.5,468.4L721.5,473.4L724.9,473.4L724.9,450.1L728.3,450.1L728.3,464.9L731.7,464.9L731.7,474.7L735.2,474.7L735.2,468.9L738.6,468.9L738.6,444.7L742.0,444.7L742.0,449.1L745.4,449.1L745.4,403.8L748.9,403.8L748.9,397.9L752.3,397.9L752.3,412.8L755.7,412.8L755.7,447.6L759.1,447.6L759.1,466.6L762.6,466.6L762.6,460.2L766.0,460.2L766.0,464.6L769.4,464.6L769.4,456.3L772.8,456.3L772.8,465.7L776.3,465.7L776.3,447.1L779.7,447.1L779.7,466.1L783.1,466.1L783.1,461.1L786.5,461.1L786.5,471.2L790.0,471.2L790.0,464.0L793.4,464.0L793.4,464.9L796.8,464.9L796.8,463.6L800.2,463.6L800.2,456.9L803.7,456.9L803.7,470.1L807.1,470.1L807.1,472.9L810.5,472.9L810.5,455.0L813.9,455.0L813.9,467.8L817.4,467.8L817.4,471.3L820.8,471.3L820.8,454.6L824.2,454.6L824.2,458.1L827.6,458.1L827.6,489.3L831.1,489.3L831.1,468.6L834.5,468.6L834.5,458.0L837.9,458.0L837.9,457.5L841.3,457.5L841.3,469.8L844.8,469.8L844.8,450.9L848.2,450.9L848.2,472.4L851.6,472.4L851.6,467.3L855.0,467.3L855.0,464.0L858.5,464.0L858.5,465.2L861.9,465.2L861.9,457.8L865.3,457.8L865.3,455.8L868.7,455.8L868.7,465.6L872.2,465.6L872.2,452.4L875.6,452.4L875.6,471.4L879.0,471.4L879.0,467.1L882.4,467.1L882.4,449.4L885.9,449.4L885.9,464.3L889.3,464.3L889.3,455.4L892.7,455.4L892.7,469.1L896.1,469.1L896.1,467.6L899.6,467.6L899.6,466.1L903.0,466.1L903.0,463.6L906.4,463.6L906.4,468.2L909.8,468.2L909.8,465.0L913.3,465.0L913.3,459.0L916.7,459.0L916.7,454.1L920.1,454.1L920.1,464.1L923.5,464.1L923.5,459.2L927.0,459.2L927.0,456.8L930.4,456.8L930.4,475.0L933.8,475.0L933.8,479.5L937.2,479.5L937.2,450.4L940.7,450.4L940.7,453.1L944.1,453.1L944.1,464.6L947.5,464.6L947.5,461.9L950.9,461.9L950.9,473.7L954.4,473.7L954.4,477.8L957.8,477.8L957.8,462.3L961.2,462.3L961.2,478.7L964.6,478.7L964.6,456.8L968.1,456.8L968.1,471.4L971.5,471.4L971.5,462.5L974.9,462.5L974.9,447.5L978.3,447.5L978.3,448.0L981.8,448.0L981.8,467.7L985.2,467.7L985.2,455.5L988.6,455.5L988.6,474.6L992.0,474.6L992.0,470.6L995.5,470.6L995.5,461.8L998.9,461.8L998.9,452.6L1002.3,452.6L1002.3,470.5L1005.7,470.5L1005.7,460.3L1009.2,460.3L1009.2,464.3L1012.6,464.3L1012.6,476.8L1016.0,476.8L1016.0,466.5L1019.4,466.5L1019.4,451.6L1022.9,451.6L1022.9,466.1L1026.3,466.1L1026.3,460.7L1029.7,460.7L1029.7,457.7L1033.1,457.7L1033.1,472.0L1036.6,472.0L1036.6,454.1L1040.0,454.1L1040.0,451.6L1043.4,451.6L1043.4,450.7L1046.8,450.7L1046.8,453.3L1050.3,453.3L1050.3,469.6L1053.7,469.6L1053.7,470.7L1057.1,470.7L1057.1,472.5L1060.5,472.5L1060.5,473.7L1064.0,473.7L1064.0,472.6L1067.4,472.6L1067.4,456.3L1070.8,456.3L1070.8,452.0L1074.2,452.0L1074.2,471.2L1077.7,471.2L1077.7,457.7L1081.1,457.7L1081.1,475.9L1084.5,475.9L1084.5,465.5L1087.9,465.5L1087.9,468.8L1091.4,468.8L1091.4,471.8L1094.8,471.8L1094.8,455.4L1098.2,455.4L1098.2,456.7L1101.6,456.7L1101.6,464.1L1105.1,464.1L1105.1,467.8L1108.5,467.8L1108.5,473.6L1111.9,473.6L1111.9,466.5L1115.3,466.5L1115.3,471.0L1118.8,471.0L1118.8,463.3L1122.2,463.3L1122.2,476.6L1125.6,476.6L1125.6,463.5L1129.0,463.5L1129.0,460.9L1132.5,460.9L1132.5,454.2L1135.9,454.2L1135.9,456.0L1139.3,456.0L1139.3,463.8L1142.7,463.8L1142.7,471.9L1146.2,471.9L1146.2,482.4L1149.6,482.4L1149.6,465.7L1153.0,465.7L1153.0,452.7L1156.4,452.7L1156.4,450.4L1159.9,450.4L1159.9,488.9L1163.3,488.9L1163.3,472.6L1166.7,472.6L1166.7,468.9L1170.1,468.9L1170.1,475.2L1173.6,475.2L1173.6,464.0L1177.0,464.0L1177.0,465.3L1180.4,465.3L1180.4,470.4L1183.8,470.4L1183.8,466.0L1187.3,466.0L1187.3,480.3L1190.7,480.3L1190.7,474.6L1194.1,474.6L1194.1,473.9L1197.5,473.9L1197.5,457.5L1201.0,457.5L1201.0,480.6L1204.4,480.6L1204.4,467.7L1207.8,467.7L1207.8,458.6L1211.2,458.6L1211.2,466.2L1214.7,466.2L1214.7,458.3L1218.1,458.3L1218.1,471.7L1221.5,471.7L1221.5,461.8L1224.9,461.8L1224.9,457.5L1228.4,457.5L1228.4,445.3L1231.8,445.3L1231.8,459.1L1235.2,459.1L1235.2,452.7L1238.6,452.7L1238.6,465.6L1242.1,465.6L1242.1,464.8L1245.5,464.8L1245.5,451.4L1248.9,451.4L1248.9,460.4L1252.3,460.4L1252.3,452.7L1255.8,452.7L1255.8,459.2L1259.2,459.2L1259.2,446.3L1262.6,446.3L1262.6,443.9L1266.0,443.9L1266.0,473.4L1269.5,473.4L1269.5,448.7L1272.9,448.7L1272.9,461.7L1276.3,461.7L1276.3,461.3L1279.7,461.3L1279.7,466.8L1283.2,466.8L1283.2,459.1L1286.6,459.1L1286.6,475.9L1290.0,475.9L1290.0,472.4L1293.4,472.4L1293.4,472.7L1296.9,472.7L1296.9,463.0L1300.3,463.0L1300.3,457.2L1303.7,457.2L1303.7,458.9L1307.1,458.9L1307.1,462.3L1310.6,462.3L1310.6,471.1L1314.0,471.1L1314.0,481.8L1317.4,481.8" stroke="#808080"/>
<path d="M187.2,462.0L190.6,462.0L190.6,464.4L194.0,464.4L194.0,462.4L197.5,462.4L197.5,452.6L200.9,452.6L200.9,467.3L204.3,467.3L204.3,467.5L207.7,467.5L207.7,486.9L211.2,486.9L211.2,460.5L214.6,460.5L214.6,466.1L218.0,466.1L218.0,472.4L221.4,472.4L221.4,462.1L224.9,462.1L224.9,475.2L228.3,475.2L228.3,470.6L231.7,470.6L231.7,447.6L235.1,447.6L235.1,458.7L238.6,458.7L238.6,457.1L242.0,457.1L242.0,458.8L245.4,458.8L245.4,459.7L248.8,459.7L248.8,463.8L252.3,463.8L252.3,444.6L255.7,444.6L255.7,466.3L259.1,466.3L259.1,458.9L262.5,458.9L262.5,467.6L266.0,467.6L266.0,468.8L269.4,468.8L269.4,488.0L272.8,488.0L272.8,483.3L276.2,483.3L276.2,451.4L279.7,451.4L279.7,452.0L283.1,452.0L283.1,469.6L286.5,469.6L286.5,465.9L289.9,465.9L289.9,460.0L293.3,460.0L293.3,474.8L296.8,474.8L296.8,449.4L300.2,449.4L300.2,475.2L303.6,475.2L303.6,472.2L307.0,472.2L307.0,491.0L310.5,491.0L310.5,451.7L313.9,451.7L313.9,465.1L317.3,465.1L317.3,450.7L320.7,450.7L320.7,474.8L324.2,474.8L324.2,462.5L327.6,462.5L327.6,464.9L331.0,464.9L331.0,463.8L334.4,463.8L334.4,446.6L337.9,446.6L337.9,444.8L341.3,444.8L341.3,453.0L344.7,453.0L344.7,469.3L348.1,469.3L348.1,457.4L351.6,457.4L351.6,453.3L355.0,453.3L355.0,460.5L358.4,460.5L358.4,460.4L361.8,460.4L361.8,461.2L365.3,461.2L365.3,473.6L368.7,473.6L368.7,461.7L372.1,461.7L372.1,443.1L375.5,443.1L375.5,449.5L379.0,449.5L379.0,406.3L382.4,406.3L382.4,351.1L385.8,351.1L385.8,345.6L389.2,345.6L389.2,374.4L392.7,374.4L392.7,429.0L396.1,429.0L396.1,445.2L399.5,445.2L399.5,463.6L402.9,463.6L402.9,463.8L406.4,463.8L406.4,464.7L409.8,464.7L409.8,466.2L413.2,466.2L413.2,467.1L416.6,467.1L416.6,487.6L420.1,487.6L420.1,451.0L423.5,451.0L423.5,468.1L426.9,468.1L426.9,475.7L430.3,475.7L430.3,471.4L433.8,471.4L433.8,462.8L437.2,462.8L437.2,474.8L440.6,474.8L440.6,469.4L444.0,469.4L444.0,469.9L447.5,469.9L447.5,460.7L450.9,460.7L450.9,472.5L454.3,472.5L454.3,461.4L457.7,461.4L457.7,462.4L461.2,462.4L461.2,467.0L464.6,467.0L464.6,454.2L468.0,454.2L468.0,465.4L471.4,465.4L471.4,476.4L474.9,476.4L474.9,462.8L478.3,462.8L478.3,464.4L481.7,464.4L481.7,465.9L485.1,465.9L485.1,463.4L488.6,463.4L488.6,444.0L492.0,444.0L492.0,463.4L495.4,463.4L495.4,461.4L498.8,461.4L498.8,467.8L502.3,467.8L502.3,453.5L505.7,453.5L505.7,466.1L509.1,466.1L509.1,472.9L512.5,472.9L512.5,476.8L516.0,476.8L516.0,460.7L519.4,460.7L519.4,458.7L522.8,458.7L522.8,480.1L526.2,480.1L526.2,472.2L529.7,472.2L529.7,459.6L533.1,459.6L533.1,456.1L536.5,456.1L536.5,477.6L539.9,477.6L539.9,469.2L543.4,469.2L543.4,457.9L546.8,457.9L546.8,470.4L550.2,470.4L550.2,469.6L553.6,469.6L553.6,470.5L557.1,470.5L557.1,477.5L560.5,477.5L560.5,465.1L563.9,465.1L563.9,462.7L567.3,462.7L567.3,478.3L570.8,478.3L570.8,464.6L574.2,464.6L574.2,455.3L577.6,455.3L577.6,463.6L581.0,463.6L581.0,456.8L584.5,456.8L584.5,470.5L587.9,470.5L587.9,452.9L591.3,452.9L591.3,472.7L594.7,472.7L594.7,448.1L598.2,448.1L598.2,469.6L601.6,469.6L601.6,472.0L605.0,472.0L605.0,473.6L608.4,473.6L608.4,468.7L611.9,468.7L611.9,467.2L615.3,467.2L615.3,461.7L618.7,461.7L618.7,445.0L622.1,445.0L622.1,409.0L625.6,409.0L625.6,424.2L629.0,424.2L629.0,450.1L632.4,450.1L632.4,447.1L635.8,447.1L635.8,472.9L639.3,472.9L639.3,474.6L642.7,474.6L642.7,475.7L646.1,475.7L646.1,459.9L649.5,459.9L649.5,479.6L653.0,479.6L653.0,478.2L656.4,478.2L656.4,453.6L659.8,453.6L659.8,449.7L663.2,449.7L663.2,453.0L666.7,453.0L666.7,479.1L670.1,479.1L670.1,465.3L673.5,465.3L673.5,457.7L676.9,457.7L676.9,464.5L680.4,464.5L680.4,480.2L683.8,480.2L683.8,468.5L687.2,468.5L687.2,481.0L690.6,481.0L690.6,476.7L694.1,476.7L694.1,445.6L697.5,445.6L697.5,459.1L700.9,459.1L700.9,478.8L704.3,478.8L704.3,479.1L707.8,479.1L707.8,461.2L711.2,461.2L711.2,470.9L714.6,470.9L714.6,460.0L718.0,460.0L718.0,471.3L721.5,471.3L721.5,467.2L724.9,467.2L724.9,463.2L728.3,463.2L728.3,474.8L731.7,474.8L731.7,482.9L735.2,482.9L735.2,475.5L738.6,475.5L738.6,465.8L742.0,465.8L742.0,442.4L745.4,442.4L745.4,411.5L748.9,411.5L748.9,402.7L752.3,402.7L752.3,421.6L755.7,421.6L755.7,460.8L759.1,460.8L759.1,450.3L762.6,450.3L762.6,446.8L766.0,446.8L766.0,462.0L769.4,462.0L769.4,463.6L772.8,463.6L772.8,453.9L776.3,453.9L776.3,459.4L779.7,459.4L779.7,463.6L783.1,463.6L783.1,466.9L786.5,466.9L786.5,472.2L790.0,472.2L790.0,476.1L793.4,476.1L793.4,459.3L796.8,459.3L796.8,454.5L800.2,454.5L800.2,475.1L803.7,475.1L803.7,466.1L807.1,466.1L807.1,463.4L810.5,463.4L810.5,469.3L813.9,469.3L813.9,472.4L817.4,472.4L817.4,469.0L820.8,469.0L820.8,483.5L824.2,483.5L824.2,466.0L827.6,466.0L827.6,468.1L831.1,468.1L831.1,446.0L834.5,446.0L834.5,456.9L837.9,456.9L837.9,468.6L841.3,468.6L841.3,465.5L844.8,465.5L844.8,449.7L848.2,449.7L848.2,450.7L851.6,450.7L851.6,463.8L855.0,463.8L855.0,466.7L858.5,466.7L858.5,478.7L861.9,478.7L861.9,468.5L865.3,468.5L865.3,467.0L868.7,467.0L868.7,472.3L872.2,472.3L872.2,449.6L875.6,449.6L875.6,482.7L879.0,482.7L879.0,466.8L882.4,466.8L882.4,461.8L885.9,461.8L885.9,461.5L889.3,461.5L889.3,450.1L892.7,450.1L892.7,478.4L896.1,478.4L896.1,472.4L899.6,472.4L899.6,464.7L903.0,464.7L903.0,464.3L906.4,464.3L906.4,469.1L909.8,469.1L909.8,472.6L913.3,472.6L913.3,455.7L916.7,455.7L916.7,475.2L920.1,475.2L920.1,470.9L923.5,470.9L923.5,452.4L927.0,452.4L927.0,449.7L930.4,449.7L930.4,457.6L933.8,457.6L933.8,473.5L937.2,473.5L937.2,473.4L940.7,473.4L940.7,473.9L944.1,473.9L944.1,476.0L947.5,476.0L947.5,469.4L950.9,469.4L950.9,454.0L954.4,454.0L954.4,463.6L957.8,463.6L957.8,472.6L961.2,472.6L961.2,472.8L964.6,472.8L964.6,476.4L968.1,476.4L968.1,454.6L971.5,454.6L971.5,484.2L974.9,484.2L974.9,463.2L978.3,463.2L978.3,478.9L981.8,478.9L981.8,475.4L985.2,475.4L985.2,479.4L988.6,479.4L988.6,456.9L992.0,456.9L992.0,466.5L995.5,466.5L995.5,440.6L998.9,440.6L998.9,475.3L1002.3,475.3L1002.3,475.8L1005.7,475.8L1005.7,460.4L1009.2,460.4L1009.2,460.6L1012.6,460.6L1012.6,468.4L1016.0,468.4L1016.0,484.4L1019.4,484.4L1019.4,452.6L1022.9,452.6L1022.9,460.6L1026.3,460.6L1026.3,462.2L1029.7,462.2L1029.7,471.3L1033.1,471.3L1033.1,460.0L1036.6,460.0L1036.6,471.1L1040.0,471.1L1040.0,465.5L1043.4,465.5L1043.4,467.7L1046.8,467.7L1046.8,454.4L1050.3,454.4L1050.3,470.3L1053.7,470.3L1053.7,469.2L1057.1,469.2L1057.1,455.9L1060.5,455.9L1060.5,463.9L1064.0,463.9L1064.0,466.2L1067.4,466.2L1067.4,468.3L1070.8,468.3L1070.8,457.3L1074.2,457.3L1074.2,472.0L1077.7,472.0L1077.7,461.4L1081.1,461.4L1081.1,446.3L1084.5,446.3L1084.5,459.5L1087.9,459.5L1087.9,467.5L1091.4,467.5L1091.4,468.6L1094.8,468.6L1094.8,455.2L1098.2,455.2L1098.2,469.4L1101.6,469.4L1101.6,475.7L1105.1,475.7L1105.1,470.7L1108.5,470.7L1108.5,475.4L1111.9,475.4L1111.9,457.9L1115.3,457.9L1115.3,479.5L1118.8,479.5L1118.8,451.7L1122.2,451.7L1122.2,473.2L1125.6,473.2L1125.6,465.2L1129.0,465.2L1129.0,460.1L1132.5,460.1L1132.5,464.2L1135.9,464.2L1135.9,459.7L1139.3,459.7L1139.3,475.4L1142.7,475.4L1142.7,487.2L1146.2,487.2L1146.2,468.2L1149.6,468.2L1149.6,481.8L1153.0,481.8L1153.0,471.7L1156.4,471.7L1156.4,457.7L1159.9,457.7L1159.9,468.2L1163.3,468.2L1163.3,471.9L1166.7,471.9L1166.7,476.8L1170.1,476.8L1170.1,469.1L1173.6,469.1L1173.6,468.0L1177.0,468.0L1177.0,481.0L1180.4,481.0L1180.4,463.8L1183.8,463.8L1183.8,476.4L1187.3,476.4L1187.3,464.5L1190.7,464.5L1190.7,470.7L1194.1,470.7L1194.1,457.4L1197.5,457.4L1197.5,458.7L1201.0,458.7L1201.0,466.4L1204.4,466.4L1204.4,467.5L1207.8,467.5L1207.8,462.5L1211.2,462.5L1211.2,453.8L1214.7,453.8L1214.7,456.7L1218.1,456.7L1218.1,465.0L1221.5,465.0L1221.5,463.5L1224.9,463.5L1224.9,451.9L1228.4,451.9L1228.4,481.4L1231.8,481.4L1231.8,461.4L1235.2,461.4L1235.2,474.6L1238.6,474.6L1238.6,453.9L1242.1,453.9L1242.1,470.8L1245.5,470.8L1245.5,467.3L1248.9,467.3L1248.9,476.2L1252.3,476.2L1252.3,466.1L1255.8,466.1L1255.8,458.9L1259.2,458.9L1259.2,450.8L1262.6,450.8L1262.6,477.7L1266.0,477.7L1266.0,470.2L1269.5,470.2L1269.5,430.2L1272.9,430.2L1272.9,457.4L1276.3,457.4L1276.3,466.1L1279.7,466.1L1279.7,461.2L1283.2,461.2L1283.2,490.5L1286.6,490.5L1286.6,451.2L1290.0,451.2L1290.0,464.5L1293.4,464.5L1293.4,479.2L1296.9,479.2L1296.9,455.2L1300.3,455.2L1300.3,471.8L1303.7,471.8L1303.7,475.4L1307.1,475.4L1307.1,461.1L1310.6,461.1L1310.6,462.3L1314.0,462.3L1314.0,470.2L1317.4,470.2" stroke="#808080"/>
<path d="M192.7,466.80L193.2,466.80L193.6,466.80L194.1,466.80L194.6,466.80L195.0,466.80L195.5,466.80L196.0,466.80L196.4,466.80L196.9,466.80L197.4,466.80L197.8,466.80L198.3,466.80L198.8,466.80L199.2,466.80L199.7,466.80L200.2,466.80L200.6,466.80L201.1,466.80L201.6,466.80L202.0,466.80L202.5,466.80L203.0,466.80L203.4,466.80L203.9,466.80L204.4,466.80L204.9,466.80L205.3,466.80L205.8,466.80L206.3,466.80L206.7,466.80L207.2,466.80L207.7,466.80L208.1,466.80L208.6,466.80L209.1,466.80L209.5,466.80L210.0,466.80L210.5,466.80L210.9,466.80L211.4,466.80L211.9,466.80L212.3,466.80L212.8,466.80L213.3,466.80L213.7,466.80L214.2,466.80L214.7,466.80L215.1,466.80L215.6,466.80L216.1,466.80L216.5,466.80L217.0,466.80L217.5,466.80L217.9,466.80L218.4,466.80L218.9,466.80L219.3,466.80L219.8,466.80L220.3,466.80L220.7,466.80L221.2,466.80L221.7,466.80L222.1,466.80L222.6,466.80L223.1,466.80L223.6,466.80L224.0,466.80L224.5,466.80L225.0,466.80L225.4,466.80L225.9,466.80L226.4,466.80L226.8,466.80L227.3,466.80L227.8,466.80L228.2,466.80L228.7,466.80L229.2,466.80L229.6,466.80L230.1,466.80L230.6,466.80L231.0,466.80L231.5,466.80L232.0,466.80L232.4,466.80L232.9,466.80L233.4,466.80L233.8,466.80L234.3,466.80L234.8,466.80L235.2,466.80L235.7,466.80L236.2,466.80L236.6,466.80L237.1,466.80L237.6,466.80L238.0,466.80L238.5,466.80L239.0,466.80L239.4,466.80L239.9,466.80L240.4,466.80L240.9,466.80L241.3,466.80L241.8,466.80L242.3,466.80L242.7,466.80L243.2,466.80L243.7,466.80L244.1,466.80L244.6,466.80L245.1,466.80L245.5,466.80L246.0,466.80L246.5,466.80L246.9,466.80L247.4,466.80L247.9,466.80L248.3,466.80L248.8,466.80L249.3,466.80L249.7,466.80L250.2,466.80L250.7,466.80L251.1,466.80L251.6,466.80L252.1,466.80L252.5,466.80L253.0,466.80L253.5,466.80L253.9,466.80L254.4,466.80L254.9,466.80L255.3,466.80L255.8,466.80L256.3,466.80L256.7,466.80L257.2,466.80L257.7,466.80L258.1,466.80L258.6,466.80L259.1,466.80L259.6,466.80L260.0,466.80L260.5,466.80L261.0,466.80L261.4,466.80L261.9,466.80L262.4,466.80L262.8,466.80L263.3,466.80L263.8,466.80L264.2,466.80L264.7,466.80L265.2,466.80L265.6,466.80L266.1,466.80L266.6,466.80L267.0,466.80L267.5,466.80L268.0,466.80L268.4,466.80L268.9,466.80L269.4,466.80L269.8,466.80L270.3,466.80L270.8,466.80L271.2,466.80L271.7,466.80L272.2,466.80L272.6,466.80L273.1,466.80L273.6,466.80L274.0,466.80L274.5,466.80L275.0,466.80L275.4,466.80L275.9,466.80L276.4,466.80L276.9,466.80L277.3,466.80L277.8,466.80L278.3,466.80L278.7,466.80L279.2,466.80L279.7,466.80L280.1,466.80L280.6,466.80L281.1,466.80L281.5,466.80L282.0,466.80L282.5,466.80L282.9,466.80L283.4,466.80L283.9,466.80L284.3,466.80L284.8,466.80L285.3,466.80L285.7,466.80L286.2,466.80L286.7,466.80L287.1,466.80L287.6,466.80L288.1,466.80L288.5,466.80L289.0,466.80L289.5,466.80L289.9,466.80L290.4,466.80L290.9,466.80L291.3,466.80L291.8,466.80L292.3,466.80L292.7,466.80L293.2,466.80L293.7,466.80L294.1,466.80L294.6,466.80L295.1,466.80L295.6,466.80L296.0,466.80L296.5,466.80L297.0,466.80L297.4,466.80L297.9,466.80L298.4,466.80L298.8,466.80L299.3,466.80L299.8,466.80L300.2,466.80L300.7,466.80L301.2,466.80L301.6,466.80L302.1,466.80L302.6,466.80L303.0,466.80L303.5,466.80L304.0,466.80L304.4,466.80L304.9,466.80L305.4,466.80L305.8,466.80L306.3,466.80L306.8,466.80L307.2,466.80L307.7,466.80L308.2,466.80L308.6,466.80L309.1,466.80L309.6,466.80L310.0,466.80L310.5,466.80L311.0,466.80L311.4,466.80L311.9,466.80L312.4,466.80L312.9,466.80L313.3,466.80L313.8,466.80L314.3,466.80L314.7,466.80L315.2,466.80L315.7,466.80L316.1,466.80L316.6,466.80L317.1,466.80L317.5,466.80L318.0,466.80L318.5,466.80L318.9,466.80L319.4,466.80L319.9,466.80L320.3,466.80L320.8,466.80L321.3,466.80L321.7,466.80L322.2,466.80L322.7,466.80L323.1,466.80L323.6,466.80L324.1,466.80L324.5,466.80L325.0,466.80L325.5,466.80L325.9,466.80L326.4,466.80L326.9,466.80L327.3,466.80L327.8,466.80L328.3,466.80L328.7,466.80L329.2,466.80L329.7,466.80L330.1,466.80L330.6,466.80L331.1,466.80L331.6,466.80L332.0,466.80L332.5,466.80L333.0,466.80L333.4,466.80L333.9,466.80L334.4,466.80L334.8,466.80L335.3,466.80L335.8,466.80L336.2,466.80L336.7,466.80L337.2,466.80L337.6,466.80L338.1,466.80L338.6,466.80L339.0,466.80L339.5,466.80L340.0,466.80L340.4,466.80L340.9,466.80L341.4,466.80L341.8,466.80L342.3,466.80L342.8,466.80L343.2,466.80L343.7,466.80L344.2,466.80L344.6,466.80L345.1,466.80L345.6,466.80L346.0,466.80L346.5,466.80L347.0,466.80L347.4,466.80L347.9,466.80L348.4,466.80L348.9,466.80L349.3,466.80L349.8,466.80L350.3,466.80L350.7,466.80L351.2,466.80L351.7,466.80L352.1,466.80L352.6,466.80L353.1,466.80L353.5,466.80L354.0,466.80L354.5,466.80L354.9,466.80L355.4,466.80L355.9,466.80L356.3,466.80L356.8,466.80L357.3,466.80L357.7,466.80L358.2,466.80L358.7,466.80L359.1,466.80L359.6,466.80L360.1,466.80L360.5,466.80L361.0,466.80L361.5,466.79L361.9,466.79L362.4,466.79L362.9,466.78L363.3,466.78L363.8,466.77L364.3,466.75L364.7,466.74L365.2,466.71L365.7,466.68L366.1,466.64L366.6,466.59L367.1,466.52L367.6,466.44L368.0,466.32L368.5,466.18L369.0,466.00L369.4,465.78L369.9,465.49L370.4,465.15L370.8,464.72L371.3,464.21L371.8,463.58L372.2,462.83L372.7,461.93L373.2,460.87L373.6,459.63L374.1,458.18L374.6,456.51L375.0,454.59L375.5,452.41L376.0,449.95L376.4,447.19L376.9,444.13L377.4,440.76L377.8,437.08L378.3,433.09L378.8,428.82L379.2,424.29L379.7,419.52L380.2,414.55L380.6,409.43L381.1,404.22L381.6,398.97L382.0,393.75L382.5,388.65L383.0,383.72L383.4,379.05L383.9,374.71L384.4,370.78L384.9,367.33L385.3,364.41L385.8,362.09L386.3,360.41L386.7,359.40L387.2,359.07L387.7,359.44L388.1,360.49L388.6,362.22L389.1,364.58L389.5,367.52L390.0,371.01L390.5,374.96L390.9,379.32L391.4,384.01L391.9,388.95L392.3,394.07L392.8,399.29L393.3,404.54L393.7,409.75L394.2,414.86L394.7,419.81L395.1,424.57L395.6,429.09L396.1,433.35L396.5,437.31L397.0,440.97L397.5,444.32L397.9,447.37L398.4,450.11L398.9,452.55L399.3,454.72L399.8,456.62L400.3,458.28L400.7,459.71L401.2,460.94L401.7,461.99L402.1,462.88L402.6,463.62L403.1,464.24L403.6,464.75L404.0,465.17L404.5,465.51L405.0,465.79L405.4,466.01L405.9,466.19L406.4,466.33L406.8,466.44L407.3,466.53L407.8,466.59L408.2,466.65L408.7,466.68L409.2,466.71L409.6,466.74L410.1,466.75L410.6,466.77L411.0,466.78L411.5,466.78L412.0,466.79L412.4,466.79L412.9,466.79L413.4,466.80L413.8,466.80L414.3,466.80L414.8,466.80L415.2,466.80L415.7,466.80L416.2,466.80L416.6,466.80L417.1,466.80L417.6,466.80L418.0,466.80L418.5,466.80L419.0,466.80L419.4,466.80L419.9,466.80L420.4,466.80L420.9,466.80L421.3,466.80L421.8,466.80L422.3,466.80L422.7,466.80L423.2,466.80L423.7,466.80L424.1,466.80L424.6,466.80L425.1,466.80L425.5,466.80L426.0,466.80L426.5,466.80L426.9,466.80L427.4,466.80L427.9,466.80L428.3,466.80L428.8,466.80L429.3,466.80L429.7,466.80L430.2,466.80L430.7,466.80L431.1,466.80L431.6,466.80L432.1,466.80L432.5,466.80L433.0,466.80L433.5,466.80L433.9,466.80L434.4,466.80L434.9,466.80L435.3,466.80L435.8,466.80L436.3,466.80L436.7,466.80L437.2,466.80L437.7,466.80L438.1,466.80L438.6,466.80L439.1,466.80L439.6,466.80L440.0,466.80L440.5,466.80L441.0,466.80L441.4,466.80L441.9,466.80L442.4,466.80L442.8,466.80L443.3,466.80L443.8,466.80L444.2,466.80L444.7,466.80L445.2,466.80L445.6,466.80L446.1,466.80L446.6,466.80L447.0,466.80L447.5,466.80L448.0,466.80L448.4,466.80L448.9,466.80L449.4,466.80L449.8,466.80L450.3,466.80L450.8,466.80L451.2,466.80L451.7,466.80L452.2,466.80L452.6,466.80L453.1,466.80L453.6,466.80L454.0,466.80L454.5,466.80L455.0,466.80L455.4,466.80L455.9,466.80L456.4,466.80L456.9,466.80L457.3,466.80L457.8,466.80L458.3,466.80L458.7,466.80L459.2,466.80L459.7,466.80L460.1,466.80L460.6,466.80L461.1,466.80L461.5,466.80L462.0,466.80L462.5,466.80L462.9,466.80L463.4,466.80L463.9,466.80L464.3,466.80L464.8,466.80L465.3,466.80L465.7,466.80L466.2,466.80L466.7,466.80L467.1,466.80L467.6,466.80L468.1,466.80L468.5,466.80L469.0,466.80L469.5,466.80L469.9,466.80L470.4,466.80L470.9,466.80L471.3,466.80L471.8,466.80L472.3,466.80L472.7,466.80L473.2,466.80L473.7,466.80L474.1,466.80L474.6,466.80L475.1,466.80L475.6,466.80L476.0,466.80L476.5,466.80L477.0,466.80L477.4,466.80L477.9,466.80L478.4,466.80L478.8,466.80L479.3,466.80L479.8,466.80L480.2,466.80L480.7,466.80L481.2,466.80L481.6,466.80L482.1,466.80L482.6,466.80L483.0,466.80L483.5,466.80L484.0,466.80L484.4,466.80L484.9,466.80L485.4,466.80L485.8,466.80L486.3,466.80L486.8,466.80L487.2,466.80L487.7,466.80L488.2,466.80L488.6,466.80L489.1,466.80L489.6,466.80L490.0,466.80L490.5,466.80L491.0,466.80L491.4,466.80L491.9,466.80L492.4,466.80L492.9,466.80L493.3,466.80L493.8,466.80L494.3,466.80L494.7,466.80L495.2,466.80L495.7,466.80L496.1,466.80L496.6,466.80L497.1,466.80L497.5,466.80L498.0,466.80L498.5,466.80L498.9,466.80L499.4,466.80L499.9,466.80L500.3,466.80L500.8,466.80L501.3,466.80L501.7,466.80L502.2,466.80L502.7,466.80L503.1,466.80L503.6,466.80L504.1,466.80L504.5,466.80L505.0,466.80L505.5,466.80L505.9,466.80L506.4,466.80L506.9,466.80L507.3,466.80L507.8,466.80L508.3,466.80L508.7,466.80L509.2,466.80L509.7,466.80L510.1,466.80L510.6,466.80L511.1,466.80L511.6,466.80L512.0,466.80L512.5,466.80L513.0,466.80L513.4,466.80L513.9,466.80L514.4,466.80L514.8,466.80L515.3,466.80L515.8,466.80L516.2,466.80L516.7,466.80L517.2,466.80L517.6,466.80L518.1,466.80L518.6,466.80L519.0,466.80L519.5,466.80L520.0,466.80L520.4,466.80L520.9,466.80L521.4,466.80L521.8,466.80L522.3,466.80L522.8,466.80L523.2,466.80L523.7,466.80L524.2,466.80L524.6,466.80L525.1,466.80L525.6,466.80L526.0,466.80L526.5,466.80L527.0,466.80L527.4,466.80L527.9,466.80L528.4,466.80L528.9,466.80L529.3,466.80L529.8,466.80L530.3,466.80L530.7,466.80L531.2,466.80L531.7,466.80L532.1,466.80L532.6,466.80L533.1,466.80L533.5,466.80L534.0,466.80L534.5,466.80L534.9,466.80L535.4,466.80L535.9,466.80L536.3,466.80L536.8,466.80L537.3,466.80L537.7,466.80L538.2,466.80L538.7,466.80L539.1,466.80L539.6,466.80L540.1,466.80L540.5,466.80L541.0,466.80L541.5,466.80L541.9,466.80L542.4,466.80L542.9,466.80L543.3,466.80L543.8,466.80L544.3,466.80L544.7,466.80L545.2,466.80L545.7,466.80L546.1,466.80L546.6,466.80L547.1,466.80L547.6,466.80L548.0,466.80L548.5,466.80L549.0,466.80L549.4,466.80L549.9,466.80L550.4,466.80L550.8,466.80L551.3,466.80L551.8,466.80L552.2,466.80L552.7,466.80L553.2,466.80L553.6,466.80L554.1,466.80L554.6,466.80L555.0,466.80L555.5,466.80L556.0,466.80L556.4,466.80L556.9,466.80L557.4,466.80L557.8,466.80L558.3,466.80L558.8,466.80L559.2,466.80L559.7,466.80L560.2,466.80L560.6,466.80L561.1,466.80L561.6,466.80L562.0,466.80L562.5,466.80L563.0,466.80L563.4,466.80L563.9,466.80L564.4,466.80L564.9,466.80L565.3,466.80L565.8,466.80L566.3,466.80L566.7,466.80L567.2,466.80L567.7,466.80L568.1,466.80L568.6,466.80L569.1,466.80L569.5,466.80L570.0,466.80L570.5,466.80L570.9,466.80L571.4,466.80L571.9,466.80L572.3,466.80L572.8,466.80L573.3,466.80L573.7,466.80L574.2,466.80L574.7,466.80L575.1,466.80L575.6,466.80L576.1,466.80L576.5,466.80L577.0,466.80L577.5,466.80L577.9,466.80L578.4,466.80L578.9,466.80L579.3,466.80L579.8,466.80L580.3,466.80L580.7,466.80L581.2,466.80L581.7,466.80L582.1,466.80L582.6,466.80L583.1,466.80L583.6,466.80L584.0,466.80L584.5,466.80L585.0,466.80L585.4,466.80L585.9,466.80L586.4,466.80L586.8,466.80L587.3,466.80L587.8,466.80L588.2,466.80L588.7,466.80L589.2,466.80L589.6,466.80L590.1,466.80L590.6,466.80L591.0,466.80L591.5,466.80L592.0,466.80L592.4,466.80L592.9,466.80L593.4,466.80L593.8,466.80L594.3,466.80L594.8,466.80L595.2,466.80L595.7,466.80L596.2,466.80L596.6,466.80L597.1,466.80L597.6,466.80L598.0,466.80L598.5,466.80L599.0,466.80L599.4,466.80L599.9,466.80L600.4,466.80L600.9,466.80L601.3,466.80L601.8,466.80L602.3,466.80L602.7,466.80L603.2,466.80L603.7,466.79L604.1,466.79L604.6,466.79L605.1,466.78L605.5,466.78L606.0,466.77L606.5,466.75L606.9,466.74L607.4,466.71L607.9,466.68L608.3,466.64L608.8,466.58L609.3,466.51L609.7,466.41L610.2,466.29L610.7,466.14L611.1,465.95L611.6,465.71L612.1,465.42L612.5,465.07L613.0,464.64L613.5,464.13L613.9,463.53L614.4,462.83L614.9,462.02L615.3,461.09L615.8,460.04L616.3,458.86L616.7,457.56L617.2,456.12L617.7,454.57L618.1,452.91L618.6,451.16L619.1,449.33L619.6,447.45L620.0,445.55L620.5,443.65L621.0,441.80L621.4,440.02L621.9,438.36L622.4,436.84L622.8,435.51L623.3,434.39L623.8,433.51L624.2,432.89L624.7,432.55L625.2,432.50L625.6,432.73L626.1,433.24L626.6,434.03L627.0,435.06L627.5,436.31L628.0,437.76L628.4,439.37L628.9,441.11L629.4,442.94L629.8,444.82L630.3,446.72L630.8,448.62L631.2,450.47L631.7,452.25L632.2,453.95L632.6,455.55L633.1,457.02L633.6,458.38L634.0,459.61L634.5,460.71L635.0,461.68L635.4,462.54L635.9,463.28L636.4,463.92L636.9,464.46L637.3,464.91L637.8,465.29L638.3,465.61L638.7,465.86L639.2,466.07L639.7,466.24L640.1,466.37L640.6,466.47L641.1,466.55L641.5,466.62L642.0,466.66L642.5,466.70L642.9,466.73L643.4,466.75L643.9,466.76L644.3,466.77L644.8,466.78L645.3,466.79L645.7,466.79L646.2,466.79L646.7,466.80L647.1,466.80L647.6,466.80L648.1,466.80L648.5,466.80L649.0,466.80L649.5,466.80L649.9,466.80L650.4,466.80L650.9,466.80L651.3,466.80L651.8,466.80L652.3,466.80L652.7,466.80L653.2,466.80L653.7,466.80L654.1,466.80L654.6,466.80L655.1,466.80L655.6,466.80L656.0,466.80L656.5,466.80L657.0,466.80L657.4,466.80L657.9,466.80L658.4,466.80L658.8,466.80L659.3,466.80L659.8,466.80L660.2,466.80L660.7,466.80L661.2,466.80L661.6,466.80L662.1,466.80L662.6,466.80L663.0,466.80L663.5,466.80L664.0,466.80L664.4,466.80L664.9,466.80L665.4,466.80L665.8,466.80L666.3,466.80L666.8,466.80L667.2,466.80L667.7,466.80L668.2,466.80L668.6,466.80L669.1,466.80L669.6,466.80L670.0,466.80L670.5,466.80L671.0,466.80L671.4,466.80L671.9,466.80L672.4,466.80L672.9,466.80L673.3,466.80L673.8,466.80L674.3,466.80L674.7,466.80L675.2,466.80L675.7,466.80L676.1,466.80L676.6,466.80L677.1,466.80L677.5,466.80L678.0,466.80L678.5,466.80L678.9,466.80L679.4,466.80L679.9,466.80L680.3,466.80L680.8,466.80L681.3,466.80L681.7,466.80L682.2,466.80L682.7,466.80L683.1,466.80L683.6,466.80L684.1,466.80L684.5,466.80L685.0,466.80L685.5,466.80L685.9,466.80L686.4,466.80L686.9,466.80L687.3,466.80L687.8,466.80L688.3,466.80L688.7,466.80L689.2,466.80L689.7,466.80L690.1,466.80L690.6,466.80L691.1,466.80L691.6,466.80L692.0,466.80L692.5,466.80L693.0,466.80L693.4,466.80L693.9,466.80L694.4,466.80L694.8,466.80L695.3,466.80L695.8,466.80L696.2,466.80L696.7,466.80L697.2,466.80L697.6,466.80L698.1,466.80L698.6,466.80L699.0,466.80L699.5,466.80L700.0,466.80L700.4,466.80L700.9,466.80L701.4,466.80L701.8,466.80L702.3,466.80L702.8,466.80L703.2,466.80L703.7,466.80L704.2,466.80L704.6,466.80L705.1,466.80L705.6,466.80L706.0,466.80L706.5,466.80L707.0,466.80L707.4,466.80L707.9,466.80L708.4,466.80L708.9,466.80L709.3,466.80L709.8,466.80L710.3,466.80L710.7,466.80L711.2,466.80L711.7,466.80L712.1,466.80L712.6,466.80L713.1,466.80L713.5,466.80L714.0,466.80L714.5,466.80L714.9,466.80L715.4,466.80L715.9,466.80L716.3,466.80L716.8,466.80L717.3,466.80L717.7,466.80L718.2,466.80L718.7,466.80L719.1,466.80L719.6,466.80L720.1,466.80L720.5,466.80L721.0,466.80L721.5,466.80L721.9,466.80L722.4,466.80L722.9,466.80L723.3,466.80L723.8,466.80L724.3,466.80L724.7,466.80L725.2,466.80L725.7,466.80L726.1,466.80L726.6,466.80L727.1,466.80L727.6,466.80L728.0,466.80L728.5,466.80L729.0,466.80L729.4,466.80L729.9,466.80L730.4,466.80L730.8,466.80L731.3,466.79L731.8,466.79L732.2,466.78L732.7,466.77L733.2,466.76L733.6,466.74L734.1,466.71L734.6,466.67L735.0,466.61L735.5,466.52L736.0,466.40L736.4,466.24L736.9,466.02L737.4,465.73L737.8,465.35L738.3,464.86L738.8,464.22L739.2,463.42L739.7,462.43L740.2,461.21L740.6,459.73L741.1,457.96L741.6,455.89L742.0,453.48L742.5,450.73L743.0,447.65L743.4,444.24L743.9,440.54L744.4,436.60L744.9,432.46L745.3,428.22L745.8,423.97L746.3,419.81L746.7,415.85L747.2,412.20L747.7,408.98L748.1,406.29L748.6,404.22L749.1,402.85L749.5,402.21L750.0,402.33L750.5,403.20L750.9,404.81L751.4,407.08L751.9,409.95L752.3,413.31L752.8,417.07L753.3,421.11L753.7,425.31L754.2,429.57L754.7,433.79L755.1,437.87L755.6,441.74L756.1,445.36L756.5,448.66L757.0,451.64L757.5,454.28L757.9,456.58L758.4,458.55L758.9,460.23L759.3,461.62L759.8,462.77L760.3,463.70L760.7,464.44L761.2,465.03L761.7,465.48L762.1,465.83L762.6,466.10L763.1,466.30L763.6,466.44L764.0,466.55L764.5,466.63L765.0,466.68L765.4,466.72L765.9,466.75L766.4,466.76L766.8,466.78L767.3,466.79L767.8,466.79L768.2,466.79L768.7,466.80L769.2,466.80L769.6,466.80L770.1,466.80L770.6,466.80L771.0,466.80L771.5,466.80L772.0,466.80L772.4,466.80L772.9,466.80L773.4,466.80L773.8,466.80L774.3,466.80L774.8,466.80L775.2,466.80L775.7,466.80L776.2,466.80L776.6,466.80L777.1,466.80L777.6,466.80L778.0,466.80L778.5,466.80L779.0,466.80L779.4,466.80L779.9,466.80L780.4,466.80L780.9,466.80L781.3,466.80L781.8,466.80L782.3,466.80L782.7,466.80L783.2,466.80L783.7,466.80L784.1,466.80L784.6,466.80L785.1,466.80L785.5,466.80L786.0,466.80L786.5,466.80L786.9,466.80L787.4,466.80L787.9,466.80L788.3,466.80L788.8,466.80L789.3,466.80L789.7,466.80L790.2,466.80L790.7,466.80L791.1,466.80L791.6,466.80L792.1,466.80L792.5,466.80L793.0,466.80L793.5,466.80L793.9,466.80L794.4,466.80L794.9,466.80L795.3,466.80L795.8,466.80L796.3,466.80L796.7,466.80L797.2,466.80L797.7,466.80L798.1,466.80L798.6,466.80L799.1,466.80L799.6,466.80L800.0,466.80L800.5,466.80L801.0,466.80L801.4,466.80L801.9,466.80L802.4,466.80L802.8,466.80L803.3,466.80L803.8,466.80L804.2,466.80L804.7,466.80L805.2,466.80L805.6,466.80L806.1,466.80L806.6,466.80L807.0,466.80L807.5,466.80L808.0,466.80L808.4,466.80L808.9,466.80L809.4,466.80L809.8,466.80L810.3,466.80L810.8,466.80L811.2,466.80L811.7,466.80L812.2,466.80L812.6,466.80L813.1,466.80L813.6,466.80L814.0,466.80L814.5,466.80L815.0,466.80L815.4,466.80L815.9,466.80L816.4,466.80L816.9,466.80L817.3,466.80L817.8,466.80L818.3,466.80L818.7,466.80L819.2,466.80L819.7,466.80L820.1,466.80L820.6,466.80L821.1,466.80L821.5,466.80L822.0,466.80L822.5,466.80L822.9,466.80L823.4,466.80L823.9,466.80L824.3,466.80L824.8,466.80L825.3,466.80L825.7,466.80L826.2,466.80L826.7,466.80L827.1,466.80L827.6,466.80L828.1,466.80L828.5,466.80L829.0,466.80L829.5,466.80L829.9,466.80L830.4,466.80L830.9,466.80L831.3,466.80L831.8,466.80L832.3,466.80L832.7,466.80L833.2,466.80L833.7,466.80L834.1,466.80L834.6,466.80L835.1,466.80L835.6,466.80L836.0,466.80L836.5,466.80L837.0,466.80L837.4,466.80L837.9,466.80L838.4,466.80L838.8,466.80L839.3,466.80L839.8,466.80L840.2,466.80L840.7,466.80L841.2,466.80L841.6,466.80L842.1,466.80L842.6,466.80L843.0,466.80L843.5,466.80L844.0,466.80L844.4,466.80L844.9,466.80L845.4,466.80L845.8,466.80L846.3,466.80L846.8,466.80L847.2,466.80L847.7,466.80L848.2,466.80L848.6,466.80L849.1,466.80L849.6,466.80L850.0,466.80L850.5,466.80L851.0,466.80L851.4,466.80L851.9,466.80L852.4,466.80L852.9,466.80L853.3,466.80L853.8,466.80L854.3,466.80L854.7,466.80L855.2,466.80L855.7,466.80L856.1,466.80L856.6,466.80L857.1,466.80L857.5,466.80L858.0,466.80L858.5,466.80L858.9,466.80L859.4,466.80L859.9,466.80L860.3,466.80L860.8,466.80L861.3,466.80L861.7,466.80L862.2,466.80L862.7,466.80L863.1,466.80L863.6,466.80L864.1,466.80L864.5,466.80L865.0,466.80L865.5,466.80L865.9,466.80L866.4,466.80L866.9,466.80L867.3,466.80L867.8,466.80L868.3,466.80L868.7,466.80L869.2,466.80L869.7,466.80L870.1,466.80L870.6,466.80L871.1,466.80L871.6,466.80L872.0,466.80L872.5,466.80L873.0,466.80L873.4,466.80L873.9,466.80L874.4,466.80L874.8,466.80L875.3,466.80L875.8,466.80L876.2,466.80L876.7,466.80L877.2,466.80L877.6,466.80L878.1,466.80L878.6,466.80L879.0,466.80L879.5,466.80L880.0,466.80L880.4,466.80L880.9,466.80L881.4,466.80L881.8,466.80L882.3,466.80L882.8,466.80L883.2,466.80L883.7,466.80L884.2,466.80L884.6,466.80L885.1,466.80L885.6,466.80L886.0,466.80L886.5,466.80L887.0,466.80L887.4,466.80L887.9,466.80L888.4,466.80L888.9,466.80L889.3,466.80L889.8,466.80L890.3,466.80L890.7,466.80L891.2,466.80L891.7,466.80L892.1,466.80L892.6,466.80L893.1,466.80L893.5,466.80L894.0,466.80L894.5,466.80L894.9,466.80L895.4,466.80L895.9,466.80L896.3,466.80L896.8,466.80L897.3,466.80L897.7,466.80L898.2,466.80L898.7,466.80L899.1,466.80L899.6,466.80L900.1,466.80L900.5,466.80L901.0,466.80L901.5,466.80L901.9,466.80L902.4,466.80L902.9,466.80L903.3,466.80L903.8,466.80L904.3,466.80L904.7,466.80L905.2,466.80L905.7,466.80L906.1,466.80L906.6,466.80L907.1,466.80L907.6,466.80L908.0,466.80L908.5,466.80L909.0,466.80L909.4,466.80L909.9,466.80L910.4,466.80L910.8,466.80L911.3,466.80L911.8,466.80L912.2,466.80L912.7,466.80L913.2,466.80L913.6,466.80L914.1,466.80L914.6,466.80L915.0,466.80L915.5,466.80L916.0,466.80L916.4,466.80L916.9,466.80L917.4,466.80L917.8,466.80L918.3,466.80L918.8,466.80L919.2,466.80L919.7,466.80L920.2,466.80L920.6,466.80L921.1,466.80L921.6,466.80L922.0,466.80L922.5,466.80L923.0,466.80L923.4,466.80L923.9,466.80L924.4,466.80L924.9,466.80L925.3,466.80L925.8,466.80L926.3,466.80L926.7,466.80L927.2,466.80L927.7,466.80L928.1,466.80L928.6,466.80L929.1,466.80L929.5,466.80L930.0,466.80L930.5,466.80L930.9,466.80L931.4,466.80L931.9,466.80L932.3,466.80L932.8,466.80L933.3,466.80L933.7,466.80L934.2,466.80L934.7,466.80L935.1,466.80L935.6,466.80L936.1,466.80L936.5,466.80L937.0,466.80L937.5,466.80L937.9,466.80L938.4,466.80L938.9,466.80L939.3,466.80L939.8,466.80L940.3,466.80L940.7,466.80L941.2,466.80L941.7,466.80L942.1,466.80L942.6,466.80L943.1,466.80L943.6,466.80L944.0,466.80L944.5,466.80L945.0,466.80L945.4,466.80L945.9,466.80L946.4,466.80L946.8,466.80L947.3,466.80L947.8,466.80L948.2,466.80L948.7,466.80L949.2,466.80L949.6,466.80L950.1,466.80L950.6,466.80L951.0,466.80L951.5,466.80L952.0,466.80L952.4,466.80L952.9,466.80L953.4,466.80L953.8,466.80L954.3,466.80L954.8,466.80L955.2,466.80L955.7,466.80L956.2,466.80L956.6,466.80L957.1,466.80L957.6,466.80L958.0,466.80L958.5,466.80L959.0,466.80L959.4,466.80L959.9,466.80L960.4,466.80L960.9,466.80L961.3,466.80L961.8,466.80L962.3,466.80L962.7,466.80L963.2,466.80L963.7,466.80L964.1,466.80L964.6,466.80L965.1,466.80L965.5,466.80L966.0,466.80L966.5,466.80L966.9,466.80L967.4,466.80L967.9,466.80L968.3,466.80L968.8,466.80L969.3,466.80L969.7,466.80L970.2,466.80L970.7,466.80L971.1,466.80L971.6,466.80L972.1,466.80L972.5,466.80L973.0,466.80L973.5,466.80L973.9,466.80L974.4,466.80L974.9,466.80L975.3,466.80L975.8,466.80L976.3,466.80L976.7,466.80L977.2,466.80L977.7,466.80L978.1,466.80L978.6,466.80L979.1,466.80L979.6,466.80L980.0,466.80L980.5,466.80L981.0,466.80L981.4,466.80L981.9,466.80L982.4,466.80L982.8,466.80L983.3,466.80L983.8,466.80L984.2,466.80L984.7,466.80L985.2,466.80L985.6,466.80L986.1,466.80L986.6,466.80L987.0,466.80L987.5,466.80L988.0,466.80L988.4,466.80L988.9,466.80L989.4,466.80L989.8,466.80L990.3,466.80L990.8,466.80L991.2,466.80L991.7,466.80L992.2,466.80L992.6,466.80L993.1,466.80L993.6,466.80L994.0,466.80L994.5,466.80L995.0,466.80L995.4,466.80L995.9,466.80L996.4,466.80L996.9,466.80L997.3,466.80L997.8,466.80L998.3,466.80L998.7,466.80L999.2,466.80L999.7,466.80L1000.1,466.80L1000.6,466.80L1001.1,466.80L1001.5,466.80L1002.0,466.80L1002.5,466.80L1002.9,466.80L1003.4,466.80L1003.9,466.80L1004.3,466.80L1004.8,466.80L1005.3,466.80L1005.7,466.80L1006.2,466.80L1006.7,466.80L1007.1,466.80L1007.6,466.80L1008.1,466.80L1008.5,466.80L1009.0,466.80L1009.5,466.80L1009.9,466.80L1010.4,466.80L1010.9,466.80L1011.3,466.80L1011.8,466.80L1012.3,466.80L1012.7,466.80L1013.2,466.80L1013.7,466.80L1014.1,466.80L1014.6,466.80L1015.1,466.80L1015.6,466.80L1016.0,466.80L1016.5,466.80L1017.0,466.80L1017.4,466.80L1017.9,466.80L1018.4,466.80L1018.8,466.80L1019.3,466.80L1019.8,466.80L1020.2,466.80L1020.7,466.80L1021.2,466.80L1021.6,466.80L1022.1,466.80L1022.6,466.80L1023.0,466.80L1023.5,466.80L1024.0,466.80L1024.4,466.80L1024.9,466.80L1025.4,466.80L1025.8,466.80L1026.3,466.80L1026.8,466.80L1027.2,466.80L1027.7,466.80L1028.2,466.80L1028.6,466.80L1029.1,466.80L1029.6,466.80L1030.0,466.80L1030.5,466.80L1031.0,466.80L1031.4,466.80L1031.9,466.80L1032.4,466.80L1032.9,466.80L1033.3,466.80L1033.8,466.80L1034.3,466.80L1034.7,466.80L1035.2,466.80L1035.7,466.80L1036.1,466.80L1036.6,466.80L1037.1,466.80L1037.5,466.80L1038.0,466.80L1038.5,466.80L1038.9,466.80L1039.4,466.80L1039.9,466.80L1040.3,466.80L1040.8,466.80L1041.3,466.80L1041.7,466.80L1042.2,466.80L1042.7,466.80L1043.1,466.80L1043.6,466.80L1044.1,466.80L1044.5,466.80L1045.0,466.80L1045.5,466.80L1045.9,466.80L1046.4,466.80L1046.9,466.80L1047.3,466.80L1047.8,466.80L1048.3,466.80L1048.7,466.80L1049.2,466.80L1049.7,466.80L1050.1,466.80L1050.6,466.80L1051.1,466.80L1051.6,466.80L1052.0,466.80L1052.5,466.80L1053.0,466.80L1053.4,466.80L1053.9,466.80L1054.4,466.80L1054.8,466.80L1055.3,466.80L1055.8,466.80L1056.2,466.80L1056.7,466.80L1057.2,466.80L1057.6,466.80L1058.1,466.80L1058.6,466.80L1059.0,466.80L1059.5,466.80L1060.0,466.80L1060.4,466.80L1060.9,466.80L1061.4,466.80L1061.8,466.80L1062.3,466.80L1062.8,466.80L1063.2,466.80L1063.7,466.80L1064.2,466.80L1064.6,466.80L1065.1,466.80L1065.6,466.80L1066.0,466.80L1066.5,466.80L1067.0,466.80L1067.4,466.80L1067.9,466.80L1068.4,466.80L1068.9,466.80L1069.3,466.80L1069.8,466.80L1070.3,466.80L1070.7,466.80L1071.2,466.80L1071.7,466.80L1072.1,466.80L1072.6,466.80L1073.1,466.80L1073.5,466.80L1074.0,466.80L1074.5,466.80L1074.9,466.80L1075.4,466.80L1075.9,466.80L1076.3,466.80L1076.8,466.80L1077.3,466.80L1077.7,466.80L1078.2,466.80L1078.7,466.80L1079.1,466.80L1079.6,466.80L1080.1,466.80L1080.5,466.80L1081.0,466.80L1081.5,466.80L1081.9,466.80L1082.4,466.80L1082.9,466.80L1083.3,466.80L1083.8,466.80L1084.3,466.80L1084.7,466.80L1085.2,466.80L1085.7,466.80L1086.1,466.80L1086.6,466.80L1087.1,466.80L1087.6,466.80L1088.0,466.80L1088.5,466.80L1089.0,466.80L1089.4,466.80L1089.9,466.80L1090.4,466.80L1090.8,466.80L1091.3,466.80L1091.8,466.80L1092.2,466.80L1092.7,466.80L1093.2,466.80L1093.6,466.80L1094.1,466.80L1094.6,466.80L1095.0,466.80L1095.5,466.80L1096.0,466.80L1096.4,466.80L1096.9,466.80L1097.4,466.80L1097.8,466.80L1098.3,466.80L1098.8,466.80L1099.2,466.80L1099.7,466.80L1100.2,466.80L1100.6,466.80L1101.1,466.80L1101.6,466.80L1102.0,466.80L1102.5,466.80L1103.0,466.80L1103.4,466.80L1103.9,466.80L1104.4,466.80L1104.9,466.80L1105.3,466.80L1105.8,466.80L1106.3,466.80L1106.7,466.80L1107.2,466.80L1107.7,466.80L1108.1,466.80L1108.6,466.80L1109.1,466.80L1109.5,466.80L1110.0,466.80L1110.5,466.80L1110.9,466.80L1111.4,466.80L1111.9,466.80L1112.3,466.80L1112.8,466.80L1113.3,466.80L1113.7,466.80L1114.2,466.80L1114.7,466.80L1115.1,466.80L1115.6,466.80L1116.1,466.80L1116.5,466.80L1117.0,466.80L1117.5,466.80L1117.9,466.80L1118.4,466.80L1118.9,466.80L1119.3,466.80L1119.8,466.80L1120.3,466.80L1120.7,466.80L1121.2,466.80L1121.7,466.80L1122.1,466.80L1122.6,466.80L1123.1,466.80L1123.6,466.80L1124.0,466.80L1124.5,466.80L1125.0,466.80L1125.4,466.80L1125.9,466.80L1126.4,466.80L1126.8,466.80L1127.3,466.80L1127.8,466.80L1128.2,466.80L1128.7,466.80L1129.2,466.80L1129.6,466.80L1130.1,466.80L1130.6,466.80L1131.0,466.80L1131.5,466.80L1132.0,466.80L1132.4,466.80L1132.9,466.80L1133.4,466.80L1133.8,466.80L1134.3,466.80L1134.8,466.80L1135.2,466.80L1135.7,466.80L1136.2,466.80L1136.6,466.80L1137.1,466.80L1137.6,466.80L1138.0,466.80L1138.5,466.80L1139.0,466.80L1139.4,466.80L1139.9,466.80L1140.4,466.80L1140.9,466.80L1141.3,466.80L1141.8,466.80L1142.3,466.80L1142.7,466.80L1143.2,466.80L1143.7,466.80L1144.1,466.80L1144.6,466.80L1145.1,466.80L1145.5,466.80L1146.0,466.80L1146.5,466.80L1146.9,466.80L1147.4,466.80L1147.9,466.80L1148.3,466.80L1148.8,466.80L1149.3,466.80L1149.7,466.80L1150.2,466.80L1150.7,466.80L1151.1,466.80L1151.6,466.80L1152.1,466.80L1152.5,466.80L1153.0,466.80L1153.5,466.80L1153.9,466.80L1154.4,466.80L1154.9,466.80L1155.3,466.80L1155.8,466.80L1156.3,466.80L1156.7,466.80L1157.2,466.80L1157.7,466.80L1158.1,466.80L1158.6,466.80L1159.1,466.80L1159.6,466.80L1160.0,466.80L1160.5,466.80L1161.0,466.80L1161.4,466.80L1161.9,466.80L1162.4,466.80L1162.8,466.80L1163.3,466.80L1163.8,466.80L1164.2,466.80L1164.7,466.80L1165.2,466.80L1165.6,466.80L1166.1,466.80L1166.6,466.80L1167.0,466.80L1167.5,466.80L1168.0,466.80L1168.4,466.80L1168.9,466.80L1169.4,466.80L1169.8,466.80L1170.3,466.80L1170.8,466.80L1171.2,466.80L1171.7,466.80L1172.2,466.80L1172.6,466.80L1173.1,466.80L1173.6,466.80L1174.0,466.80L1174.5,466.80L1175.0,466.80L1175.4,466.80L1175.9,466.80L1176.4,466.80L1176.9,466.80L1177.3,466.80L1177.8,466.80L1178.3,466.80L1178.7,466.80L1179.2,466.80L1179.7,466.80L1180.1,466.80L1180.6,466.80L1181.1,466.80L1181.5,466.80L1182.0,466.80L1182.5,466.80L1182.9,466.80L1183.4,466.80L1183.9,466.80L1184.3,466.80L1184.8,466.80L1185.3,466.80L1185.7,466.80L1186.2,466.80L1186.7,466.80L1187.1,466.80L1187.6,466.80L1188.1,466.80L1188.5,466.80L1189.0,466.80L1189.5,466.80L1189.9,466.80L1190.4,466.80L1190.9,466.80L1191.3,466.80L1191.8,466.80L1192.3,466.80L1192.7,466.80L1193.2,466.80L1193.7,466.80L1194.1,466.80L1194.6,466.80L1195.1,466.80L1195.6,466.80L1196.0,466.80L1196.5,466.80L1197.0,466.80L1197.4,466.80L1197.9,466.80L1198.4,466.80L1198.8,466.80L1199.3,466.80L1199.8,466.80L1200.2,466.80L1200.7,466.80L1201.2,466.80L1201.6,466.80L1202.1,466.80L1202.6,466.80L1203.0,466.80L1203.5,466.80L1204.0,466.80L1204.4,466.80L1204.9,466.80L1205.4,466.80L1205.8,466.80L1206.3,466.80L1206.8,466.80L1207.2,466.80L1207.7,466.80L1208.2,466.80L1208.6,466.80L1209.1,466.80L1209.6,466.80L1210.0,466.80L1210.5,466.80L1211.0,466.80L1211.4,466.80L1211.9,466.80L1212.4,466.80L1212.9,466.80L1213.3,466.80L1213.8,466.80L1214.3,466.80L1214.7,466.80L1215.2,466.80L1215.7,466.80L1216.1,466.80L1216.6,466.80L1217.1,466.80L1217.5,466.80L1218.0,466.80L1218.5,466.80L1218.9,466.80L1219.4,466.80L1219.9,466.80L1220.3,466.80L1220.8,466.80L1221.3,466.80L1221.7,466.80L1222.2,466.80L1222.7,466.80L1223.1,466.80L1223.6,466.80L1224.1,466.80L1224.5,466.80L1225.0,466.80L1225.5,466.80L1225.9,466.80L1226.4,466.80L1226.9,466.80L1227.3,466.80L1227.8,466.80L1228.3,466.80L1228.7,466.80L1229.2,466.80L1229.7,466.80L1230.1,466.80L1230.6,466.80L1231.1,466.80L1231.6,466.80L1232.0,466.80L1232.5,466.80L1233.0,466.80L1233.4,466.80L1233.9,466.80L1234.4,466.80L1234.8,466.80L1235.3,466.80L1235.8,466.80L1236.2,466.80L1236.7,466.80L1237.2,466.80L1237.6,466.80L1238.1,466.80L1238.6,466.80L1239.0,466.80L1239.5,466.80L1240.0,466.80L1240.4,466.80L1240.9,466.80L1241.4,466.80L1241.8,466.80L1242.3,466.80L1242.8,466.80L1243.2,466.80L1243.7,466.80L1244.2,466.80L1244.6,466.80L1245.1,466.80L1245.6,466.80L1246.0,466.80L1246.5,466.80L1247.0,466.80L1247.4,466.80L1247.9,466.80L1248.4,466.80L1248.9,466.80L1249.3,466.80L1249.8,466.80L1250.3,466.80L1250.7,466.80L1251.2,466.80L1251.7,466.80L1252.1,466.80L1252.6,466.80L1253.1,466.80L1253.5,466.80L1254.0,466.80L1254.5,466.80L1254.9,466.80L1255.4,466.80L1255.9,466.80L1256.3,466.80L1256.8,466.80L1257.3,466.80L1257.7,466.80L1258.2,466.80L1258.7,466.80L1259.1,466.80L1259.6,466.80L1260.1,466.80L1260.5,466.80L1261.0,466.80L1261.5,466.80L1261.9,466.80L1262.4,466.80L1262.9,466.80L1263.3,466.80L1263.8,466.80L1264.3,466.80L1264.7,466.80L1265.2,466.80L1265.7,466.80L1266.1,466.80L1266.6,466.80L1267.1,466.80L1267.6,466.80L1268.0,466.80L1268.5,466.80L1269.0,466.80L1269.4,466.80L1269.9,466.80L1270.4,466.80L1270.8,466.80L1271.3,466.80L1271.8,466.80L1272.2,466.80L1272.7,466.80L1273.2,466.80L1273.6,466.80L1274.1,466.80L1274.6,466.80L1275.0,466.80L1275.5,466.80L1276.0,466.80L1276.4,466.80L1276.9,466.80L1277.4,466.80L1277.8,466.80L1278.3,466.80L1278.8,466.80L1279.2,466.80L1279.7,466.80L1280.2,466.80L1280.6,466.80L1281.1,466.80L1281.6,466.80L1282.0,466.80L1282.5,466.80L1283.0,466.80L1283.4,466.80L1283.9,466.80L1284.4,466.80L1284.9,466.80L1285.3,466.80L1285.8,466.80L1286.3,466.80L1286.7,466.80L1287.2,466.80L1287.7,466.80L1288.1,466.80L1288.6,466.80L1289.1,466.80L1289.5,466.80L1290.0,466.80L1290.5,466.80L1290.9,466.80L1291.4,466.80L1291.9,466.80L1292.3,466.80L1292.8,466.80L1293.3,466.80L1293.7,466.80L1294.2,466.80L1294.7,466.80L1295.1,466.80L1295.6,466.80L1296.1,466.80L1296.5,466.80L1297.0,466.80L1297.5,466.80L1297.9,466.80L1298.4,466.80L1298.9,466.80L1299.3,466.80L1299.8,466.80L1300.3,466.80L1300.7,466.80L1301.2,466.80L1301.7,466.80L1302.1,466.80L1302.6,466.80L1303.1,466.80L1303.6,466.80L1304.0,466.80L1304.5,466.80L1305.0,466.80L1305.4,466.80L1305.9,466.80L1306.4,466.80L1306.8,466.80L1307.3,466.80L1307.8,466.80L1308.2,466.80L1308.7,466.80L1309.2,466.80L1309.6,466.80L1310.1,466.80L1310.6,466.80L1311.0,466.80L1311.5,466.80L1312.0,466.80L1312.4,466.80L1312.9,466.80L1313.4,466.80L1313.8,466.80L1314.3,466.80" stroke="#00f"/>
<path d="M386.95,79.6V600" stroke="#f0f" stroke-width="3.8" stroke-dasharray="27 9 4.5 8.8 4.5 8.8 4.5 8.1"/>
</g>
<g transform="translate(0,66.6) scale(1,1.0436) translate(0,-66.6)"><text x="341.74 372.82 408.49 440.78 467.34 493.04 518.64 545.03 558.55 583.95 610.98 636.22 663.65 689.75 715.98 729.25 754.75 781.78 808.48 821.81 832.99 864.49 896.85 927.11 959.12 970.76 1005.04 1042.38 1053.26 1070.00 1096.02 1124.48 1149.26" y="66.60 66.60 66.60 66.60 66.60 66.60 66.60 66.60 66.60 66.60 66.60 72.90 66.60 66.60 66.60 66.60 66.60 66.60 66.60 66.60 66.60 66.60 66.60 66.60 66.60 66.60 66.60 66.60 66.60 66.60 72.90 66.60 66.60" style="font-family:'Liberation Sans',Arial,Helvetica,sans-serif" font-size="48" fill="#000" xml:space="preserve">AGAL336.841&#8722;00.221  APEX CO (2&#8722;1)</text><g fill="#fff"><rect x="613.46" y="62.66" width="9.35" height="4.94"/><rect x="627.53" y="62.66" width="8.25" height="4.94"/><rect x="784.26" y="62.66" width="9.35" height="4.94"/><rect x="798.33" y="62.66" width="8.25" height="4.94"/><rect x="1126.96" y="62.66" width="9.35" height="4.94"/><rect x="1141.03" y="62.66" width="8.25" height="4.94"/></g></g>
<g transform="translate(0,604.9) scale(1,1.0436) translate(0,-604.9)"><text style="font-family:'Liberation Sans',Arial,Helvetica,sans-serif" font-size="38.6" fill="#000"><tspan x="265.57" y="609.00" font-weight="bold">&#8722;</tspan><tspan x="287.40 308.32 329.15" y="604.90">140</tspan></text><g fill="#fff"><rect x="289.24" y="601.73" width="7.68" height="4.17"/><rect x="300.71" y="601.73" width="6.69" height="4.17"/></g></g>
<g transform="translate(0,604.9) scale(1,1.0436) translate(0,-604.9)"><text style="font-family:'Liberation Sans',Arial,Helvetica,sans-serif" font-size="38.6" fill="#000"><tspan x="417.79" y="609.00" font-weight="bold">&#8722;</tspan><tspan x="439.62 460.53 481.37" y="604.90">120</tspan></text><g fill="#fff"><rect x="441.46" y="601.73" width="7.68" height="4.17"/><rect x="452.93" y="601.73" width="6.69" height="4.17"/></g></g>
<g transform="translate(0,604.9) scale(1,1.0436) translate(0,-604.9)"><text style="font-family:'Liberation Sans',Arial,Helvetica,sans-serif" font-size="38.6" fill="#000"><tspan x="570.01" y="609.00" font-weight="bold">&#8722;</tspan><tspan x="591.84 612.75 633.59" y="604.90">100</tspan></text><g fill="#fff"><rect x="593.68" y="601.73" width="7.68" height="4.17"/><rect x="605.15" y="601.73" width="6.69" height="4.17"/></g></g>
<g transform="translate(0,604.9) scale(1,1.0436) translate(0,-604.9)"><text style="font-family:'Liberation Sans',Arial,Helvetica,sans-serif" font-size="38.6" fill="#000"><tspan x="732.65" y="609.00" font-weight="bold">&#8722;</tspan><tspan x="754.55 775.39" y="604.90">80</tspan></text><g fill="#fff"></g></g>
<g transform="translate(0,604.9) scale(1,1.0436) translate(0,-604.9)"><text style="font-family:'Liberation Sans',Arial,Helvetica,sans-serif" font-size="38.6" fill="#000"><tspan x="884.87" y="609.00" font-weight="bold">&#8722;</tspan><tspan x="906.77 927.61" y="604.90">60</tspan></text><g fill="#fff"></g></g>
<g transform="translate(0,604.9) scale(1,1.0436) translate(0,-604.9)"><text style="font-family:'Liberation Sans',Arial,Helvetica,sans-serif" font-size="38.6" fill="#000"><tspan x="1037.09" y="609.00" font-weight="bold">&#8722;</tspan><tspan x="1059.00 1079.83" y="604.90">40</tspan></text><g fill="#fff"></g></g>
<g transform="translate(0,604.9) scale(1,1.0436) translate(0,-604.9)"><text style="font-family:'Liberation Sans',Arial,Helvetica,sans-serif" font-size="38.6" fill="#000"><tspan x="1189.31" y="609.00" font-weight="bold">&#8722;</tspan><tspan x="1211.21 1232.05" y="604.90">20</tspan></text><g fill="#fff"></g></g>
<g transform="translate(0,557.9) scale(1,1.0436) translate(0,-557.9)"><text style="font-family:'Liberation Sans',Arial,Helvetica,sans-serif" font-size="38.6" fill="#000"><tspan x="143.94" y="562.00" font-weight="bold">&#8722;</tspan><tspan x="165.78" y="557.90">1</tspan></text><g fill="#fff"><rect x="167.62" y="554.73" width="7.68" height="4.17"/><rect x="179.09" y="554.73" width="6.69" height="4.17"/></g></g>
<g transform="translate(0,480.1) scale(1,1.0436) translate(0,-480.1)"><text style="font-family:'Liberation Sans',Arial,Helvetica,sans-serif" font-size="38.6" fill="#000"><tspan x="165.85" y="480.10">0</tspan></text><g fill="#fff"></g></g>
<g transform="translate(0,400.3) scale(1,1.0436) translate(0,-400.3)"><text style="font-family:'Liberation Sans',Arial,Helvetica,sans-serif" font-size="38.6" fill="#000"><tspan x="165.78" y="400.30">1</tspan></text><g fill="#fff"><rect x="167.62" y="397.13" width="7.68" height="4.17"/><rect x="179.09" y="397.13" width="6.69" height="4.17"/></g></g>
<g transform="translate(0,320.50000000000006) scale(1,1.0436) translate(0,-320.50000000000006)"><text style="font-family:'Liberation Sans',Arial,Helvetica,sans-serif" font-size="38.6" fill="#000"><tspan x="165.85" y="320.50">2</tspan></text><g fill="#fff"></g></g>
<g transform="translate(0,240.70000000000005) scale(1,1.0436) translate(0,-240.70000000000005)"><text style="font-family:'Liberation Sans',Arial,Helvetica,sans-serif" font-size="38.6" fill="#000"><tspan x="165.85" y="240.70">3</tspan></text><g fill="#fff"></g></g>
<g transform="translate(0,160.90000000000003) scale(1,1.0436) translate(0,-160.90000000000003)"><text style="font-family:'Liberation Sans',Arial,Helvetica,sans-serif" font-size="38.6" fill="#000"><tspan x="165.85" y="160.90">4</tspan></text><g fill="#fff"></g></g>
<g transform="translate(0,645.9) scale(1,1.0436) translate(0,-645.9)"><text style="font-family:'Liberation Sans',Arial,Helvetica,sans-serif" font-size="38.6" fill="#000"><tspan x="647.33" y="645.9">V</tspan><tspan x="672.51 686.22 701.63" y="653.9" font-size="23.93">LSR</tspan><tspan x="718.91 728.04 739.72 759.01 791.17 801.41" y="645.9" xml:space="preserve"> (km s</tspan><tspan x="819.91 834.06" y="631.00 628.30" font-size="23.93">&#8722;1</tspan><tspan x="846.66" y="645.9">)</tspan></text><g fill="#fff"><rect x="834.90" y="626.34" width="5.07" height="2.96"/><rect x="842.31" y="626.34" width="4.26" height="2.96"/></g></g>
<g transform="translate(114.9,0) rotate(-90) scale(1,1.0436)"><text style="font-family:'Liberation Sans',Arial,Helvetica,sans-serif" font-size="38.6" fill="#000"><tspan x="-371.23" y="0">T</tspan><tspan x="-348.96" y="-16.49" font-size="23.93">*</tspan><tspan x="-348.88" y="8.60" font-size="23.93">A</tspan><tspan x="-332.92 -323.01 -309.74 -284.59" y="0" xml:space="preserve"> (K)</tspan></text></g>
</svg>
</body></html>
